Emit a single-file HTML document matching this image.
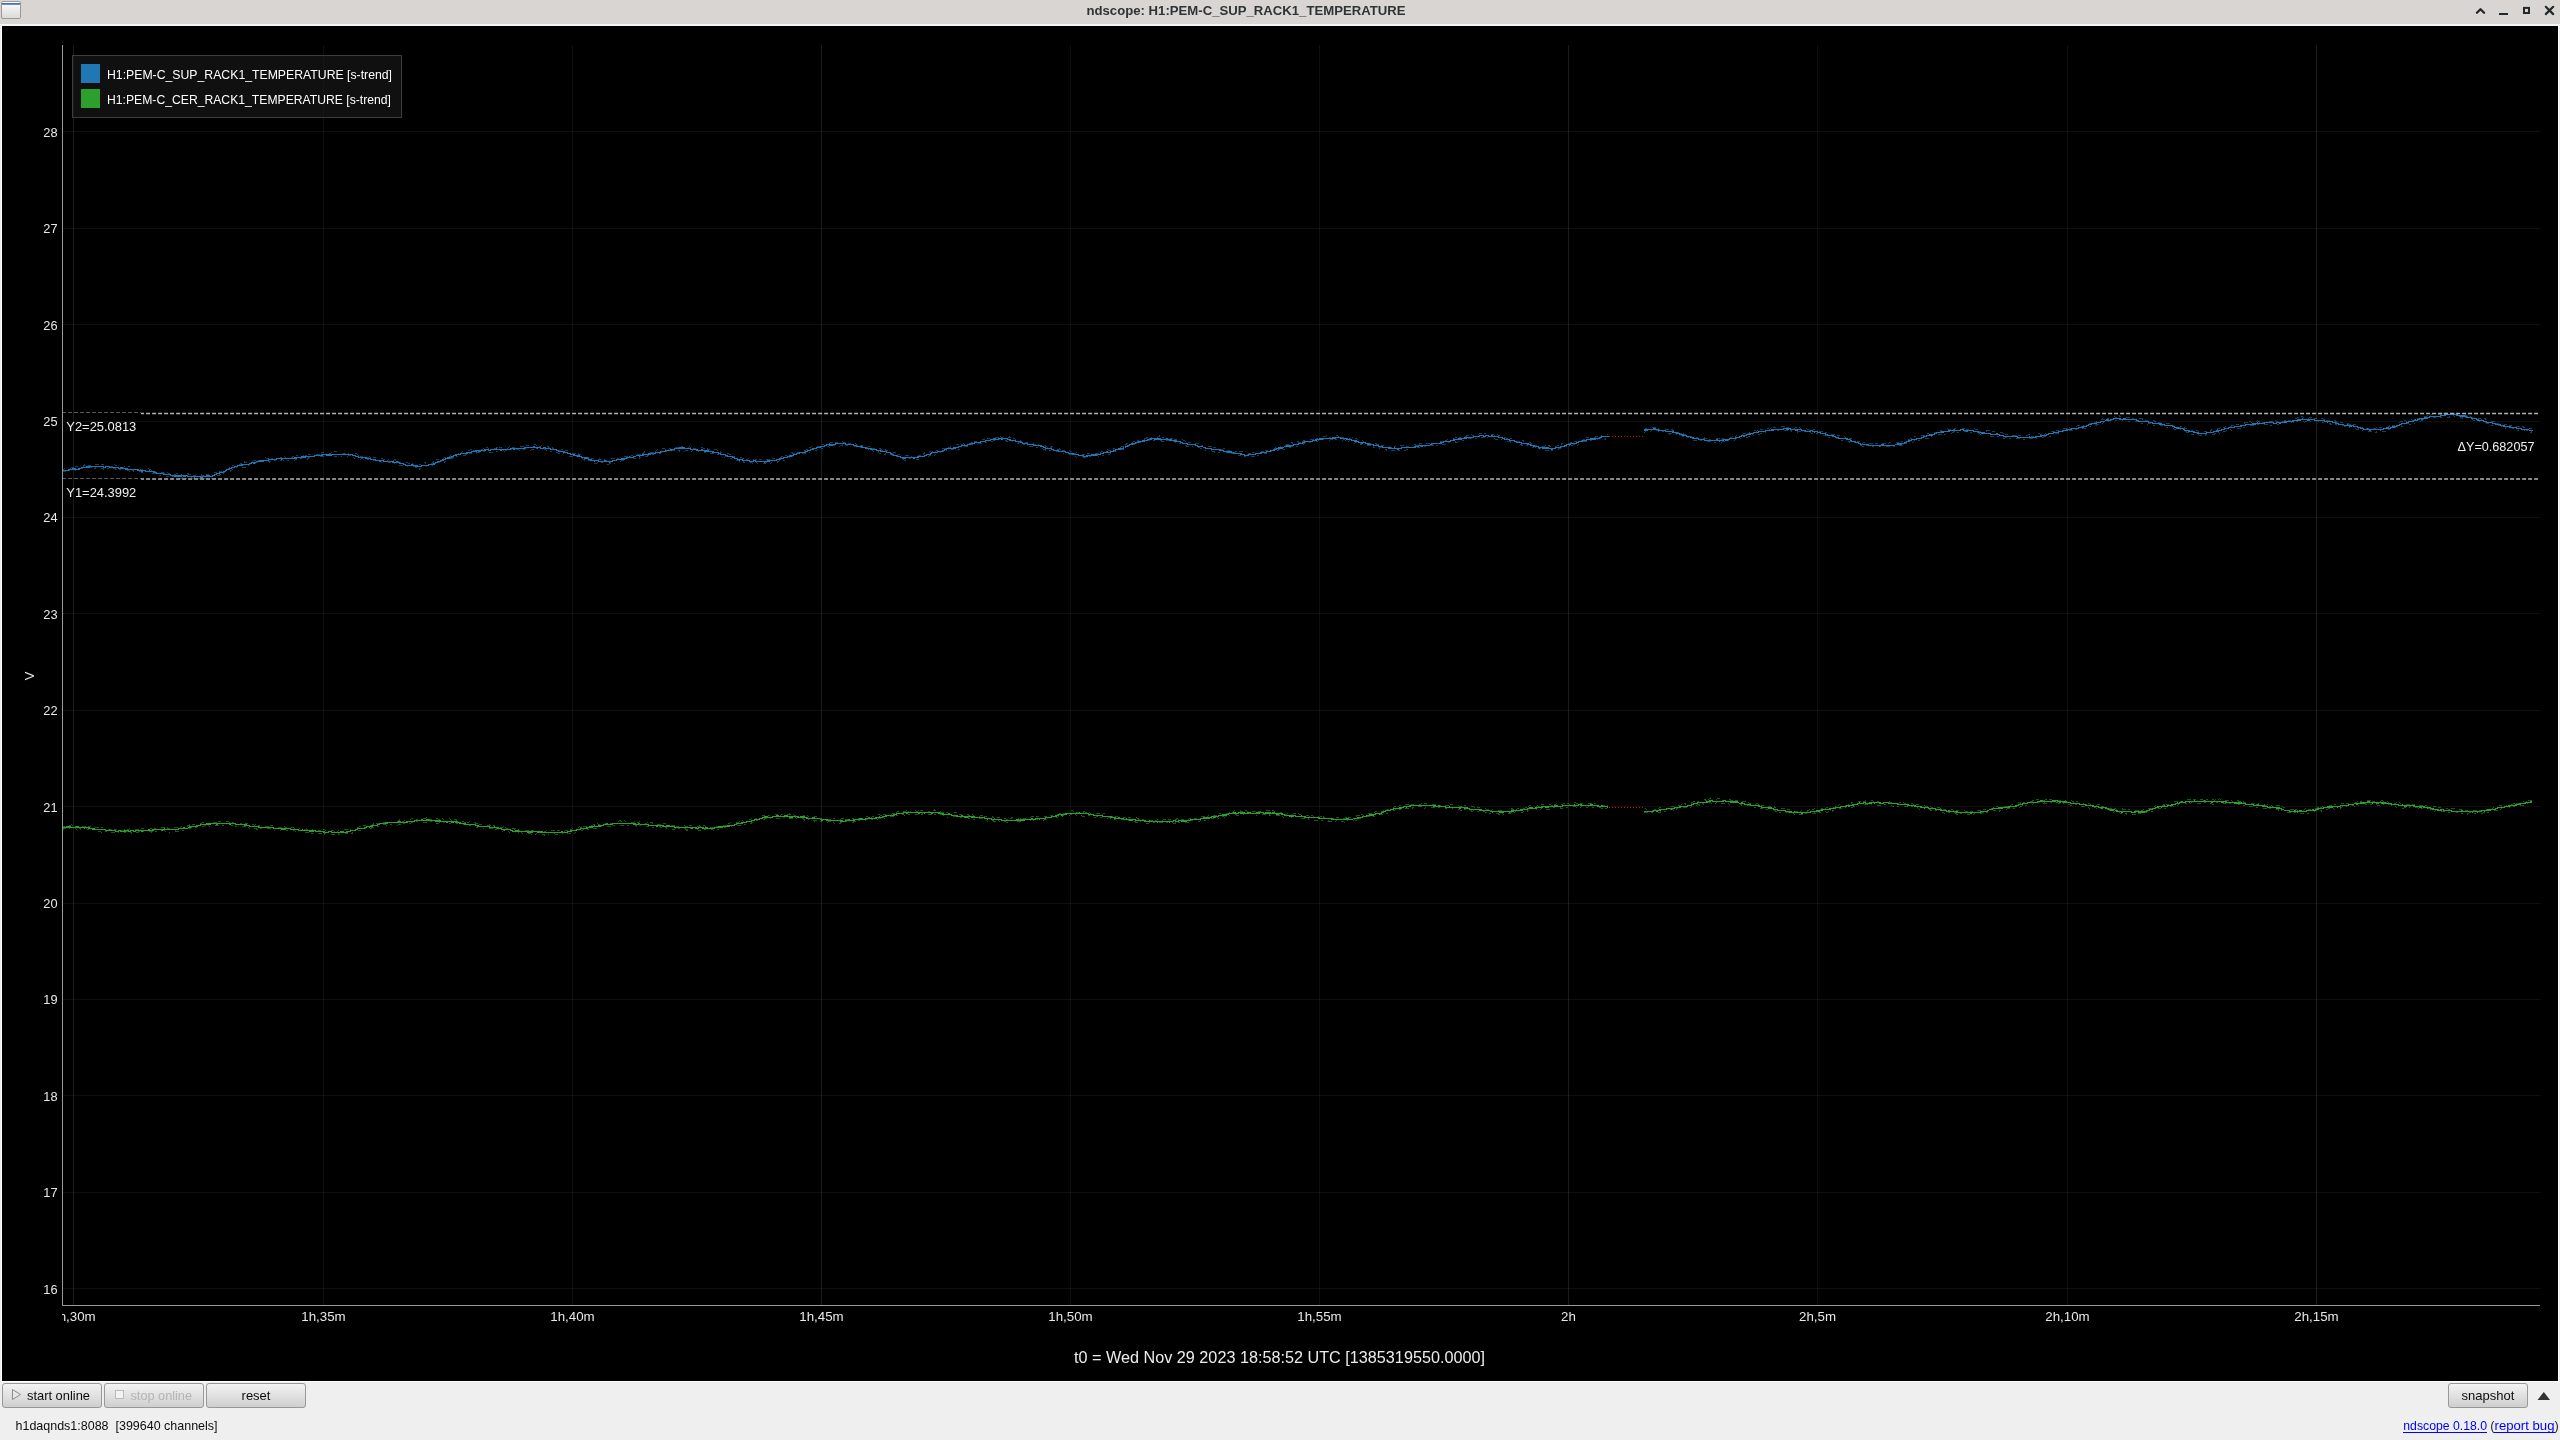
<!DOCTYPE html><html><head><meta charset="utf-8"><style>
html,body{margin:0;padding:0;width:2560px;height:1440px;overflow:hidden;background:#efefef;}
svg{position:absolute;left:0;top:0;display:block;will-change:transform}
text{font-family:"Liberation Sans",sans-serif;}
</style></head><body>
<svg width="2560" height="1440" viewBox="0 0 2560 1440">
<defs>
<linearGradient id="btn" x1="0" y1="0" x2="0" y2="1"><stop offset="0" stop-color="#f4f4f4"/><stop offset="1" stop-color="#cecece"/></linearGradient>
<linearGradient id="ico" x1="0" y1="0" x2="0" y2="1"><stop offset="0" stop-color="#ffffff"/><stop offset="1" stop-color="#d8dad6"/></linearGradient>
<clipPath id="plotclip"><rect x="63" y="45" width="2477" height="1260"/></clipPath>
<clipPath id="xaxclip"><rect x="62" y="1306" width="2496" height="30"/></clipPath>
</defs>
<rect x="0" y="0" width="2560" height="1440" fill="#efefef"/>
<rect x="0" y="0" width="2560" height="24" fill="#d9d5d2"/>
<rect x="0" y="24" width="2560" height="2" fill="#f6f6f6"/>
<rect x="1" y="26" width="1" height="1357" fill="#ffffff"/>
<rect x="2558" y="26" width="1" height="1357" fill="#ffffff"/>
<rect x="2" y="26" width="2556" height="1355" fill="#000000"/>
<rect x="1" y="1381" width="2558" height="1" fill="#ffffff"/>
<rect x="1.5" y="1.5" width="19" height="17" rx="1.5" fill="url(#ico)" stroke="#9a9a9a" stroke-width="1"/>
<rect x="2" y="3" width="18" height="1.8" fill="#4a74ad"/>
<text x="1246" y="15" font-size="13.2" font-weight="bold" fill="#2e3436" text-anchor="middle" textLength="319" lengthAdjust="spacingAndGlyphs">ndscope: H1:PEM-C_SUP_RACK1_TEMPERATURE</text>
<path d="M2476.9 12.8 L2480.5 9.2 L2484.1 12.8" fill="none" stroke="#22292c" stroke-width="2.3" stroke-linecap="round" stroke-linejoin="round"/>
<rect x="2499" y="13" width="9" height="2" fill="#22292c"/>
<rect x="2524" y="7.9" width="5" height="5.1" fill="none" stroke="#22292c" stroke-width="2"/>
<path d="M2545.8 6.8 L2553.2 14.1 M2553.2 6.8 L2545.8 14.1" fill="none" stroke="#22292c" stroke-width="2.2" stroke-linecap="round"/>
<path d="M73.5 45V1305 M821.5 45V1305 M1568.5 45V1305 M2316.5 45V1305" stroke="#ffffff" stroke-opacity="0.11" stroke-width="1" fill="none"/>
<path d="M323.5 45V1305 M572.5 45V1305 M1070.5 45V1305 M1319.5 45V1305 M1817.5 45V1305 M2067.5 45V1305 M63 131.5H2540 M63 228.5H2540 M63 324.5H2540 M63 421.5H2540 M63 517.5H2540 M63 613.5H2540 M63 710.5H2540 M63 806.5H2540 M63 903.5H2540 M63 999.5H2540 M63 1095.5H2540 M63 1192.5H2540 M63 1288.5H2540" stroke="#ffffff" stroke-opacity="0.06" stroke-width="1" fill="none"/>
<rect x="72.5" y="55.5" width="329" height="62" fill="#1a1a1a" fill-opacity="0.6" stroke="#3c3c3c" stroke-width="1"/>
<rect x="81" y="64" width="19" height="19" fill="#1f77b4"/>
<rect x="81" y="89" width="19" height="19" fill="#2ca02c"/>
<text x="107" y="79" font-size="12.6" fill="#ffffff" textLength="285" lengthAdjust="spacingAndGlyphs">H1:PEM-C_SUP_RACK1_TEMPERATURE [s-trend]</text>
<text x="107" y="104" font-size="12.6" fill="#ffffff" textLength="284" lengthAdjust="spacingAndGlyphs">H1:PEM-C_CER_RACK1_TEMPERATURE [s-trend]</text>
<g clip-path="url(#plotclip)">
<polyline points="62.0,472.18 64.5,471.44 67.0,472.32 69.5,470.61 72.0,471.41 74.5,470.68 77.0,469.44 79.5,470.02 82.0,468.39 84.5,468.84 87.0,467.47 89.5,467.38 92.0,468.04 94.5,468.86 97.0,467.04 99.5,467.14 102.0,468.37 104.5,469.39 107.0,468.77 109.5,468.59 112.0,470.24 114.5,468.21 117.0,470.36 119.5,469.20 122.0,469.05 124.5,469.18 127.0,469.94 129.5,471.46 132.0,470.23 134.5,471.50 137.0,471.93 139.5,471.59 142.0,472.31 144.5,471.45 147.0,471.74 149.5,472.39 152.0,473.98 154.5,473.83 157.0,474.00 159.5,475.11 162.0,475.24 164.5,475.24 167.0,476.80 169.5,476.94 172.0,476.22 174.5,477.38 177.0,477.39 179.5,478.36 182.0,478.14 184.5,477.21 187.0,479.00 189.5,477.06 192.0,477.91 194.5,478.86 197.0,477.53 199.5,478.47 202.0,477.21 204.5,478.54 207.0,478.59 209.5,477.96 212.0,478.50 214.5,476.20 217.0,476.17 219.5,474.98 222.0,473.99 224.5,472.74 227.0,472.67 229.5,471.92 232.0,469.79 234.5,469.24 237.0,466.80 239.5,467.83 242.0,467.20 244.5,467.53 247.0,466.62 249.5,464.83 252.0,464.45 254.5,464.49 257.0,462.31 259.5,462.74 262.0,461.40 264.5,461.04 267.0,460.66 269.5,462.12 272.0,460.35 274.5,460.39 277.0,460.61 279.5,461.63 282.0,459.60 284.5,460.36 287.0,460.47 289.5,461.02 292.0,460.62 294.5,460.47 297.0,458.82 299.5,458.90 302.0,458.51 304.5,459.52 307.0,459.45 309.5,457.26 312.0,457.07 314.5,456.91 317.0,456.61 319.5,456.91 322.0,456.86 324.5,455.78 327.0,455.09 329.5,456.02 332.0,455.83 334.5,456.23 337.0,457.09 339.5,456.50 342.0,456.12 344.5,456.40 347.0,456.58 349.5,455.13 352.0,457.74 354.5,458.03 357.0,458.84 359.5,459.23 362.0,458.84 364.5,459.31 367.0,459.05 369.5,460.77 372.0,459.85 374.5,460.31 377.0,461.07 379.5,461.37 382.0,462.22 384.5,461.71 387.0,461.76 389.5,462.30 392.0,462.36 394.5,463.17 397.0,462.98 399.5,465.64 402.0,465.63 404.5,465.14 407.0,466.01 409.5,466.48 412.0,466.77 414.5,466.44 417.0,468.44 419.5,469.03 422.0,467.40 424.5,467.07 427.0,465.75 429.5,465.42 432.0,465.62 434.5,464.44 437.0,464.79 439.5,462.19 442.0,460.86 444.5,462.08 447.0,460.19 449.5,458.39 452.0,458.46 454.5,456.34 457.0,456.67 459.5,457.25 462.0,456.47 464.5,455.57 467.0,454.03 469.5,453.78 472.0,452.85 474.5,453.85 477.0,452.83 479.5,452.97 482.0,451.44 484.5,451.06 487.0,452.34 489.5,452.62 492.0,452.18 494.5,451.93 497.0,451.92 499.5,451.70 502.0,450.42 504.5,451.08 507.0,450.65 509.5,449.61 512.0,449.35 514.5,449.69 517.0,449.38 519.5,450.16 522.0,450.63 524.5,449.23 527.0,450.24 529.5,450.19 532.0,449.94 534.5,448.70 537.0,448.52 539.5,448.70 542.0,448.80 544.5,448.99 547.0,450.50 549.5,451.66 552.0,452.02 554.5,451.65 557.0,452.57 559.5,453.55 562.0,452.46 564.5,454.48 567.0,455.70 569.5,456.03 572.0,456.58 574.5,456.56 577.0,456.47 579.5,458.56 582.0,458.10 584.5,459.96 587.0,461.11 589.5,460.47 592.0,461.22 594.5,463.27 597.0,463.00 599.5,461.93 602.0,462.08 604.5,462.40 607.0,464.47 609.5,463.86 612.0,461.89 614.5,463.14 617.0,463.13 619.5,461.98 622.0,460.62 624.5,460.48 627.0,458.85 629.5,457.95 632.0,459.63 634.5,458.36 637.0,457.56 639.5,458.04 642.0,456.34 644.5,456.89 647.0,456.40 649.5,454.55 652.0,454.26 654.5,453.98 657.0,453.48 659.5,453.81 662.0,452.52 664.5,452.41 667.0,451.21 669.5,452.58 672.0,450.87 674.5,450.74 677.0,450.66 679.5,451.05 682.0,449.51 684.5,451.03 687.0,450.36 689.5,450.77 692.0,451.08 694.5,450.19 697.0,451.39 699.5,450.96 702.0,450.71 704.5,452.94 707.0,451.75 709.5,452.80 712.0,453.72 714.5,453.64 717.0,453.82 719.5,455.02 722.0,455.85 724.5,457.14 727.0,456.25 729.5,458.10 732.0,458.12 734.5,458.94 737.0,460.89 739.5,461.02 742.0,461.52 744.5,462.36 747.0,463.10 749.5,462.34 752.0,463.12 754.5,462.91 757.0,462.98 759.5,463.46 762.0,462.94 764.5,463.18 767.0,462.75 769.5,463.56 772.0,462.68 774.5,462.80 777.0,462.66 779.5,460.27 782.0,460.24 784.5,460.41 787.0,459.42 789.5,456.98 792.0,456.19 794.5,456.21 797.0,454.57 799.5,454.23 802.0,453.08 804.5,453.76 807.0,453.28 809.5,452.80 812.0,450.27 814.5,450.87 817.0,449.98 819.5,447.99 822.0,449.02 824.5,448.47 827.0,445.93 829.5,447.49 832.0,445.96 834.5,445.97 837.0,446.98 839.5,446.40 842.0,444.87 844.5,445.60 847.0,445.88 849.5,445.53 852.0,445.27 854.5,446.18 857.0,447.77 859.5,446.71 862.0,448.61 864.5,448.96 867.0,448.44 869.5,449.70 872.0,450.90 874.5,451.13 877.0,450.55 879.5,453.38 882.0,453.53 884.5,454.59 887.0,453.13 889.5,454.14 892.0,454.48 894.5,457.13 897.0,456.79 899.5,457.33 902.0,458.91 904.5,460.21 907.0,460.11 909.5,458.88 912.0,458.74 914.5,460.71 917.0,459.25 919.5,458.94 922.0,456.85 924.5,456.16 927.0,457.05 929.5,455.67 932.0,454.07 934.5,455.40 937.0,453.92 939.5,453.57 942.0,451.22 944.5,452.44 947.0,449.92 949.5,451.20 952.0,449.59 954.5,448.81 957.0,448.83 959.5,449.22 962.0,447.14 964.5,446.31 967.0,446.76 969.5,445.57 972.0,444.76 974.5,444.39 977.0,443.62 979.5,443.36 982.0,443.01 984.5,442.37 987.0,442.84 989.5,441.10 992.0,441.35 994.5,440.33 997.0,440.48 999.5,439.44 1002.0,439.75 1004.5,439.49 1007.0,441.51 1009.5,441.37 1012.0,440.80 1014.5,441.79 1017.0,443.74 1019.5,442.61 1022.0,445.17 1024.5,444.68 1027.0,445.27 1029.5,446.52 1032.0,445.90 1034.5,446.62 1037.0,447.67 1039.5,449.00 1042.0,448.08 1044.5,449.88 1047.0,450.20 1049.5,450.66 1052.0,450.73 1054.5,451.22 1057.0,451.15 1059.5,451.96 1062.0,452.32 1064.5,454.43 1067.0,453.76 1069.5,454.04 1072.0,454.35 1074.5,456.67 1077.0,457.24 1079.5,457.26 1082.0,456.83 1084.5,457.23 1087.0,456.98 1089.5,457.01 1092.0,455.92 1094.5,456.24 1097.0,455.43 1099.5,456.61 1102.0,456.13 1104.5,454.61 1107.0,453.39 1109.5,454.62 1112.0,452.28 1114.5,451.64 1117.0,450.02 1119.5,450.18 1122.0,449.64 1124.5,448.71 1127.0,446.98 1129.5,446.71 1132.0,444.51 1134.5,444.13 1137.0,443.05 1139.5,443.12 1142.0,441.59 1144.5,440.87 1147.0,440.88 1149.5,440.51 1152.0,441.16 1154.5,440.82 1157.0,441.15 1159.5,440.73 1162.0,441.07 1164.5,441.66 1167.0,440.68 1169.5,440.73 1172.0,442.51 1174.5,441.18 1177.0,443.23 1179.5,443.70 1182.0,442.94 1184.5,445.50 1187.0,446.14 1189.5,446.01 1192.0,446.76 1194.5,447.45 1197.0,446.33 1199.5,447.89 1202.0,448.47 1204.5,449.89 1207.0,450.45 1209.5,451.13 1212.0,450.92 1214.5,452.03 1217.0,451.90 1219.5,452.29 1222.0,451.55 1224.5,451.57 1227.0,452.32 1229.5,453.37 1232.0,453.25 1234.5,455.51 1237.0,455.22 1239.5,455.77 1242.0,456.14 1244.5,456.65 1247.0,456.57 1249.5,455.16 1252.0,456.81 1254.5,456.45 1257.0,455.61 1259.5,455.43 1262.0,455.10 1264.5,453.05 1267.0,454.03 1269.5,452.24 1272.0,451.18 1274.5,450.90 1277.0,451.27 1279.5,449.27 1282.0,449.82 1284.5,449.64 1287.0,447.99 1289.5,447.22 1292.0,446.95 1294.5,446.94 1297.0,446.64 1299.5,445.65 1302.0,445.08 1304.5,443.10 1307.0,442.63 1309.5,442.26 1312.0,442.93 1314.5,441.38 1317.0,441.51 1319.5,439.68 1322.0,439.30 1324.5,439.55 1327.0,440.26 1329.5,440.06 1332.0,439.77 1334.5,438.60 1337.0,439.56 1339.5,439.85 1342.0,440.27 1344.5,439.80 1347.0,442.03 1349.5,440.74 1352.0,442.98 1354.5,443.25 1357.0,441.67 1359.5,443.36 1362.0,444.86 1364.5,445.84 1367.0,445.23 1369.5,445.29 1372.0,445.65 1374.5,447.92 1377.0,446.66 1379.5,448.05 1382.0,447.44 1384.5,448.81 1387.0,450.29 1389.5,448.77 1392.0,450.87 1394.5,450.04 1397.0,450.87 1399.5,450.35 1402.0,449.14 1404.5,450.65 1407.0,449.30 1409.5,447.82 1412.0,447.40 1414.5,448.20 1417.0,447.73 1419.5,447.07 1422.0,446.39 1424.5,446.58 1427.0,446.21 1429.5,447.17 1432.0,444.70 1434.5,446.05 1437.0,445.81 1439.5,443.64 1442.0,445.12 1444.5,444.16 1447.0,444.16 1449.5,442.25 1452.0,441.99 1454.5,441.59 1457.0,442.62 1459.5,441.20 1462.0,440.23 1464.5,439.96 1467.0,439.16 1469.5,438.25 1472.0,438.00 1474.5,439.39 1477.0,437.71 1479.5,438.90 1482.0,437.12 1484.5,437.03 1487.0,437.49 1489.5,436.59 1492.0,436.90 1494.5,438.87 1497.0,439.28 1499.5,439.69 1502.0,439.83 1504.5,441.09 1507.0,441.84 1509.5,441.58 1512.0,442.67 1514.5,441.74 1517.0,444.06 1519.5,443.95 1522.0,445.25 1524.5,445.56 1527.0,445.27 1529.5,445.27 1532.0,448.04 1534.5,446.80 1537.0,448.29 1539.5,448.65 1542.0,449.21 1544.5,450.40 1547.0,451.10 1549.5,449.51 1552.0,450.59 1554.5,449.87 1557.0,449.74 1559.5,448.60 1562.0,447.30 1564.5,446.54 1567.0,445.90 1569.5,446.95 1572.0,445.35 1574.5,444.07 1577.0,445.10 1579.5,444.69 1582.0,442.80 1584.5,441.48 1587.0,441.02 1589.5,440.20 1592.0,440.22 1594.5,439.20 1597.0,439.13 1599.5,438.76 1602.0,439.09 1604.5,439.43 1608.5,437.85" fill="none" stroke="#1f77b4" stroke-width="1" stroke-opacity="0.55" stroke-dasharray="4 3 2 5" shape-rendering="crispEdges"/>
<polyline points="62.0,470.00 64.5,468.87 67.0,468.55 69.5,468.50 72.0,467.82 74.5,467.41 77.0,466.25 79.5,466.27 82.0,467.42 84.5,464.90 87.0,465.31 89.5,465.47 92.0,465.89 94.5,464.20 97.0,464.19 99.5,464.00 102.0,464.62 104.5,464.99 107.0,466.47 109.5,466.48 112.0,466.79 114.5,464.95 117.0,465.18 119.5,467.00 122.0,467.65 124.5,466.84 127.0,467.41 129.5,466.30 132.0,467.54 134.5,469.12 137.0,469.18 139.5,469.55 142.0,470.13 144.5,468.70 147.0,468.66 149.5,469.07 152.0,470.40 154.5,471.24 157.0,472.31 159.5,472.23 162.0,472.50 164.5,473.16 167.0,472.79 169.5,473.38 172.0,472.52 174.5,474.68 177.0,473.49 179.5,475.27 182.0,474.74 184.5,474.05 187.0,473.76 189.5,474.18 192.0,475.24 194.5,475.52 197.0,474.24 199.5,474.27 202.0,475.18 204.5,475.14 207.0,474.49 209.5,473.92 212.0,474.64 214.5,472.28 217.0,472.02 219.5,471.46 222.0,471.70 224.5,470.00 227.0,469.57 229.5,467.59 232.0,466.01 234.5,465.04 237.0,465.76 239.5,464.64 242.0,463.19 244.5,462.00 247.0,462.65 249.5,462.57 252.0,461.33 254.5,460.31 257.0,460.66 259.5,460.65 262.0,458.34 264.5,457.64 267.0,458.13 269.5,458.09 272.0,458.48 274.5,457.08 277.0,458.38 279.5,458.11 282.0,457.42 284.5,456.57 287.0,458.28 289.5,456.45 292.0,457.42 294.5,455.75 297.0,455.48 299.5,456.53 302.0,455.16 304.5,456.48 307.0,455.14 309.5,454.15 312.0,453.99 314.5,454.15 317.0,454.45 319.5,454.83 322.0,452.60 324.5,452.89 327.0,452.39 329.5,454.15 332.0,452.08 334.5,451.79 337.0,451.74 339.5,452.58 342.0,453.84 344.5,453.84 347.0,453.52 349.5,454.19 352.0,454.62 354.5,453.75 357.0,453.99 359.5,456.37 362.0,456.49 364.5,455.23 367.0,457.19 369.5,456.96 372.0,457.40 374.5,457.75 377.0,457.77 379.5,457.79 382.0,458.87 384.5,459.22 387.0,460.85 389.5,459.04 392.0,461.23 394.5,459.60 397.0,460.58 399.5,462.31 402.0,462.93 404.5,462.62 407.0,462.32 409.5,463.59 412.0,463.59 414.5,465.16 417.0,463.66 419.5,464.32 422.0,465.23 424.5,462.78 427.0,463.33 429.5,463.92 432.0,463.44 434.5,460.70 437.0,459.68 439.5,458.75 442.0,459.81 444.5,457.22 447.0,457.51 449.5,457.00 452.0,454.77 454.5,453.73 457.0,454.50 459.5,453.18 462.0,451.83 464.5,452.42 467.0,450.96 469.5,450.36 472.0,449.26 474.5,450.61 477.0,450.55 479.5,449.42 482.0,449.71 484.5,447.38 487.0,447.75 489.5,448.20 492.0,449.23 494.5,449.09 497.0,447.69 499.5,447.32 502.0,447.71 504.5,447.82 507.0,448.83 509.5,446.78 512.0,448.01 514.5,447.59 517.0,447.53 519.5,447.15 522.0,446.59 524.5,445.75 527.0,445.56 529.5,445.49 532.0,446.33 534.5,444.81 537.0,445.26 539.5,446.77 542.0,445.72 544.5,445.46 547.0,445.88 549.5,447.63 552.0,447.58 554.5,449.65 557.0,449.92 559.5,450.80 562.0,449.70 564.5,449.89 567.0,450.55 569.5,452.15 572.0,453.28 574.5,453.28 577.0,453.40 579.5,454.47 582.0,455.59 584.5,456.46 587.0,457.38 589.5,458.35 592.0,458.65 594.5,458.09 597.0,460.08 599.5,459.03 602.0,459.94 604.5,459.74 607.0,460.87 609.5,459.20 612.0,458.93 614.5,458.55 617.0,457.95 619.5,459.32 622.0,457.97 624.5,456.74 627.0,456.29 629.5,457.10 632.0,455.32 634.5,454.16 637.0,455.04 639.5,454.17 642.0,454.48 644.5,451.85 647.0,452.36 649.5,452.81 652.0,452.48 654.5,452.27 657.0,449.80 659.5,449.90 662.0,448.99 664.5,448.65 667.0,450.04 669.5,448.60 672.0,449.05 674.5,447.33 677.0,448.14 679.5,446.76 682.0,445.92 684.5,447.50 687.0,448.23 689.5,446.54 692.0,448.05 694.5,448.44 697.0,447.66 699.5,448.20 702.0,447.84 704.5,448.31 707.0,448.75 709.5,449.90 712.0,450.34 714.5,449.59 717.0,449.87 719.5,451.37 722.0,452.95 724.5,452.50 727.0,453.55 729.5,454.05 732.0,456.23 734.5,456.40 737.0,455.99 739.5,456.84 742.0,457.92 744.5,458.66 747.0,459.24 749.5,458.30 752.0,458.84 754.5,460.17 757.0,459.53 759.5,459.28 762.0,459.39 764.5,460.99 767.0,459.15 769.5,459.46 772.0,458.66 774.5,458.50 777.0,459.27 779.5,458.84 782.0,456.57 784.5,455.42 787.0,455.95 789.5,453.94 792.0,452.71 794.5,454.11 797.0,452.22 799.5,452.42 802.0,450.67 804.5,451.07 807.0,449.31 809.5,447.84 812.0,446.74 814.5,447.27 817.0,446.74 819.5,446.63 822.0,443.91 824.5,444.44 827.0,443.09 829.5,443.21 832.0,442.15 834.5,442.28 837.0,442.65 839.5,443.42 842.0,441.54 844.5,442.54 847.0,443.37 849.5,443.84 852.0,442.07 854.5,442.52 857.0,445.10 859.5,445.80 862.0,445.24 864.5,444.83 867.0,447.42 869.5,446.63 872.0,448.37 874.5,448.19 877.0,449.18 879.5,448.20 882.0,450.33 884.5,449.59 887.0,450.65 889.5,452.33 892.0,453.17 894.5,452.50 897.0,453.46 899.5,454.78 902.0,455.94 904.5,455.74 907.0,455.24 909.5,455.65 912.0,456.92 914.5,457.45 917.0,454.78 919.5,455.41 922.0,455.26 924.5,452.91 927.0,454.21 929.5,451.73 932.0,452.14 934.5,451.27 937.0,450.70 939.5,449.18 942.0,448.83 944.5,448.59 947.0,447.58 949.5,447.51 952.0,446.37 954.5,445.85 957.0,444.36 959.5,445.29 962.0,444.47 964.5,443.36 967.0,444.13 969.5,443.67 972.0,442.40 974.5,441.23 977.0,441.44 979.5,439.94 982.0,439.37 984.5,439.47 987.0,438.04 989.5,438.26 992.0,438.17 994.5,436.80 997.0,437.98 999.5,436.40 1002.0,437.71 1004.5,438.12 1007.0,437.78 1009.5,436.98 1012.0,438.36 1014.5,438.36 1017.0,440.58 1019.5,439.48 1022.0,442.06 1024.5,442.83 1027.0,442.64 1029.5,443.28 1032.0,442.22 1034.5,444.56 1037.0,444.00 1039.5,445.74 1042.0,446.26 1044.5,445.08 1047.0,447.19 1049.5,448.16 1052.0,446.72 1054.5,448.03 1057.0,449.63 1059.5,448.83 1062.0,451.10 1064.5,450.11 1067.0,451.91 1069.5,450.79 1072.0,452.16 1074.5,453.66 1077.0,452.45 1079.5,453.08 1082.0,454.16 1084.5,454.22 1087.0,453.17 1089.5,453.15 1092.0,452.73 1094.5,454.22 1097.0,453.23 1099.5,453.25 1102.0,451.00 1104.5,451.98 1107.0,449.88 1109.5,450.37 1112.0,449.87 1114.5,448.44 1117.0,448.92 1119.5,447.39 1122.0,446.69 1124.5,446.42 1127.0,443.55 1129.5,444.68 1132.0,442.81 1134.5,441.25 1137.0,441.54 1139.5,439.60 1142.0,440.67 1144.5,439.01 1147.0,437.81 1149.5,438.59 1152.0,437.61 1154.5,436.77 1157.0,437.93 1159.5,436.07 1162.0,438.12 1164.5,436.96 1167.0,438.08 1169.5,439.11 1172.0,438.36 1174.5,439.21 1177.0,439.04 1179.5,438.96 1182.0,439.71 1184.5,440.66 1187.0,442.28 1189.5,442.34 1192.0,443.03 1194.5,444.45 1197.0,443.12 1199.5,443.98 1202.0,445.63 1204.5,444.74 1207.0,445.33 1209.5,446.80 1212.0,446.58 1214.5,447.55 1217.0,447.60 1219.5,448.83 1222.0,449.21 1224.5,448.79 1227.0,450.30 1229.5,450.44 1232.0,450.12 1234.5,452.55 1237.0,451.26 1239.5,451.42 1242.0,451.67 1244.5,453.35 1247.0,454.29 1249.5,453.83 1252.0,452.66 1254.5,452.08 1257.0,451.23 1259.5,452.50 1262.0,451.67 1264.5,450.53 1267.0,450.61 1269.5,449.50 1272.0,450.05 1274.5,448.82 1277.0,446.92 1279.5,447.75 1282.0,444.95 1284.5,445.38 1287.0,444.57 1289.5,443.67 1292.0,442.74 1294.5,443.97 1297.0,441.63 1299.5,442.29 1302.0,442.60 1304.5,440.05 1307.0,439.56 1309.5,439.91 1312.0,439.17 1314.5,438.99 1317.0,438.90 1319.5,436.87 1322.0,436.69 1324.5,436.42 1327.0,435.57 1329.5,437.33 1332.0,436.83 1334.5,436.42 1337.0,435.13 1339.5,437.56 1342.0,437.74 1344.5,437.44 1347.0,438.47 1349.5,438.15 1352.0,437.97 1354.5,438.05 1357.0,438.99 1359.5,439.15 1362.0,440.50 1364.5,442.12 1367.0,442.62 1369.5,443.48 1372.0,443.66 1374.5,443.09 1377.0,444.28 1379.5,444.50 1382.0,445.79 1384.5,445.61 1387.0,445.44 1389.5,446.79 1392.0,448.02 1394.5,446.14 1397.0,447.65 1399.5,445.50 1402.0,446.00 1404.5,445.87 1407.0,446.72 1409.5,446.83 1412.0,445.98 1414.5,444.60 1417.0,445.56 1419.5,443.94 1422.0,443.42 1424.5,444.73 1427.0,443.76 1429.5,443.61 1432.0,443.10 1434.5,443.40 1437.0,441.73 1439.5,442.17 1442.0,441.37 1444.5,441.31 1447.0,439.85 1449.5,440.09 1452.0,439.27 1454.5,438.19 1457.0,437.53 1459.5,438.08 1462.0,436.35 1464.5,437.92 1467.0,435.65 1469.5,434.99 1472.0,434.82 1474.5,436.42 1477.0,434.65 1479.5,433.79 1482.0,433.39 1484.5,433.29 1487.0,434.72 1489.5,434.45 1492.0,434.47 1494.5,435.15 1497.0,434.12 1499.5,435.96 1502.0,435.99 1504.5,437.66 1507.0,438.35 1509.5,439.20 1512.0,437.90 1514.5,440.50 1517.0,441.29 1519.5,441.94 1522.0,440.50 1524.5,441.30 1527.0,441.65 1529.5,442.03 1532.0,444.65 1534.5,445.24 1537.0,445.48 1539.5,446.61 1542.0,446.82 1544.5,446.12 1547.0,445.80 1549.5,445.92 1552.0,447.64 1554.5,446.44 1557.0,445.97 1559.5,445.47 1562.0,443.75 1564.5,443.57 1567.0,442.88 1569.5,443.30 1572.0,441.84 1574.5,441.11 1577.0,442.03 1579.5,440.31 1582.0,440.56 1584.5,439.42 1587.0,437.43 1589.5,437.77 1592.0,437.25 1594.5,437.64 1597.0,436.19 1599.5,436.63 1602.0,435.81 1604.5,434.62 1608.5,434.65" fill="none" stroke="#1f77b4" stroke-width="1" stroke-opacity="0.55" stroke-dasharray="3 5 4 2" shape-rendering="crispEdges"/>
<polyline points="62.0,471.43 64.5,470.19 67.0,470.74 69.5,469.64 72.0,469.12 74.5,469.04 77.0,469.21 79.5,468.97 82.0,467.31 84.5,467.39 87.0,466.89 89.5,467.12 92.0,466.24 94.5,466.47 97.0,466.16 99.5,466.60 102.0,466.17 104.5,467.25 107.0,466.72 109.5,466.90 112.0,467.74 114.5,467.70 117.0,467.43 119.5,468.26 122.0,467.80 124.5,468.85 127.0,469.04 129.5,469.44 132.0,469.55 134.5,469.53 137.0,469.88 139.5,470.17 142.0,471.07 144.5,470.40 147.0,471.67 149.5,470.93 152.0,471.60 154.5,472.12 157.0,473.33 159.5,473.30 162.0,473.61 164.5,474.58 167.0,474.17 169.5,474.81 172.0,475.27 174.5,475.91 177.0,476.03 179.5,476.04 182.0,475.81 184.5,475.91 187.0,475.84 189.5,476.79 192.0,476.70 194.5,476.93 197.0,476.37 199.5,476.83 202.0,477.05 204.5,476.64 207.0,475.91 209.5,476.13 212.0,476.46 214.5,474.74 217.0,473.73 219.5,472.91 222.0,472.44 224.5,471.66 227.0,469.84 229.5,468.84 232.0,467.95 234.5,467.04 237.0,466.28 239.5,465.34 242.0,465.04 244.5,464.38 247.0,464.82 249.5,464.02 252.0,462.64 254.5,463.04 257.0,461.38 259.5,461.09 262.0,461.18 264.5,460.71 267.0,460.40 269.5,459.80 272.0,459.28 274.5,459.57 277.0,458.80 279.5,458.79 282.0,458.88 284.5,458.32 287.0,458.63 289.5,458.85 292.0,458.48 294.5,458.00 297.0,457.91 299.5,457.46 302.0,456.82 304.5,457.12 307.0,456.64 309.5,456.79 312.0,456.74 314.5,455.87 317.0,455.74 319.5,455.65 322.0,454.96 324.5,454.42 327.0,454.95 329.5,455.07 332.0,454.87 334.5,454.71 337.0,454.82 339.5,454.66 342.0,454.65 344.5,454.46 347.0,454.34 349.5,454.75 352.0,454.70 354.5,455.66 357.0,456.68 359.5,457.18 362.0,457.66 364.5,457.65 367.0,458.31 369.5,458.80 372.0,459.45 374.5,459.64 377.0,460.38 379.5,461.10 382.0,460.62 384.5,461.37 387.0,461.69 389.5,461.41 392.0,461.71 394.5,462.47 397.0,461.97 399.5,463.19 402.0,463.35 404.5,464.72 407.0,465.53 409.5,465.27 412.0,465.02 414.5,465.84 417.0,466.05 419.5,466.51 422.0,465.89 424.5,465.68 427.0,465.53 429.5,464.80 432.0,464.29 434.5,463.94 437.0,462.05 439.5,461.62 442.0,460.27 444.5,459.72 447.0,458.07 449.5,458.22 452.0,456.59 454.5,455.35 457.0,454.73 459.5,454.38 462.0,453.42 464.5,453.40 467.0,452.90 469.5,452.74 472.0,451.87 474.5,451.32 477.0,450.82 479.5,450.99 482.0,450.78 484.5,450.15 487.0,449.65 489.5,450.22 492.0,449.60 494.5,449.25 497.0,449.12 499.5,449.85 502.0,449.85 504.5,449.60 507.0,449.36 509.5,449.21 512.0,448.55 514.5,449.18 517.0,448.18 519.5,448.27 522.0,448.31 524.5,448.14 527.0,447.55 529.5,447.17 532.0,447.31 534.5,446.97 537.0,447.99 539.5,447.59 542.0,448.35 544.5,447.82 547.0,448.45 549.5,448.80 552.0,449.51 554.5,449.72 557.0,450.00 559.5,451.50 562.0,451.60 564.5,452.18 567.0,452.88 569.5,453.73 572.0,454.29 574.5,455.17 577.0,455.83 579.5,456.10 582.0,457.41 584.5,458.07 587.0,457.85 589.5,459.51 592.0,460.35 594.5,460.94 597.0,460.43 599.5,461.52 602.0,461.54 604.5,461.06 607.0,461.31 609.5,462.06 612.0,461.33 614.5,460.46 617.0,459.90 619.5,459.57 622.0,459.06 624.5,459.09 627.0,457.96 629.5,457.10 632.0,457.38 634.5,456.75 637.0,455.50 639.5,455.87 642.0,455.03 644.5,454.74 647.0,454.22 649.5,454.11 652.0,453.61 654.5,453.29 657.0,452.14 659.5,452.23 662.0,451.54 664.5,451.29 667.0,450.43 669.5,450.46 672.0,449.69 674.5,448.96 677.0,448.54 679.5,448.05 682.0,448.09 684.5,447.90 687.0,448.72 689.5,448.66 692.0,449.41 694.5,449.75 697.0,449.98 699.5,450.55 702.0,449.71 704.5,451.03 707.0,450.90 709.5,451.34 712.0,451.78 714.5,452.31 717.0,452.49 719.5,453.28 722.0,454.67 724.5,454.35 727.0,455.76 729.5,456.52 732.0,456.55 734.5,458.01 737.0,458.86 739.5,459.92 742.0,459.57 744.5,460.72 747.0,460.52 749.5,460.86 752.0,461.73 754.5,460.74 757.0,461.61 759.5,461.55 762.0,461.26 764.5,461.93 767.0,461.04 769.5,460.87 772.0,460.63 774.5,460.62 777.0,459.65 779.5,459.17 782.0,458.41 784.5,457.81 787.0,457.39 789.5,456.00 792.0,455.89 794.5,454.63 797.0,454.00 799.5,452.98 802.0,452.51 804.5,452.32 807.0,451.19 809.5,450.60 812.0,449.30 814.5,448.53 817.0,447.76 819.5,447.35 822.0,446.66 824.5,446.09 827.0,444.45 829.5,445.07 832.0,445.06 834.5,444.45 837.0,443.66 839.5,443.76 842.0,443.49 844.5,443.79 847.0,444.75 849.5,444.45 852.0,444.59 854.5,445.37 857.0,446.13 859.5,446.39 862.0,447.02 864.5,447.65 867.0,448.24 869.5,448.62 872.0,449.22 874.5,449.16 877.0,450.20 879.5,450.57 882.0,451.56 884.5,451.38 887.0,452.10 889.5,452.54 892.0,454.31 894.5,455.36 897.0,455.93 899.5,456.46 902.0,457.89 904.5,457.96 907.0,457.81 909.5,457.57 912.0,457.74 914.5,458.01 917.0,457.26 919.5,456.78 922.0,456.41 924.5,456.14 927.0,454.47 929.5,454.33 932.0,452.95 934.5,452.29 937.0,452.37 939.5,451.34 942.0,451.12 944.5,449.93 947.0,448.78 949.5,448.59 952.0,448.21 954.5,448.13 957.0,447.68 959.5,446.57 962.0,445.99 964.5,445.12 967.0,445.27 969.5,444.25 972.0,443.68 974.5,443.02 977.0,442.51 979.5,442.70 982.0,441.41 984.5,441.80 987.0,440.13 989.5,440.44 992.0,439.30 994.5,438.92 997.0,439.51 999.5,438.69 1002.0,439.03 1004.5,438.67 1007.0,438.81 1009.5,439.98 1012.0,440.21 1014.5,440.68 1017.0,441.38 1019.5,441.45 1022.0,442.95 1024.5,443.49 1027.0,443.63 1029.5,444.64 1032.0,444.26 1034.5,445.56 1037.0,445.88 1039.5,445.65 1042.0,446.28 1044.5,447.66 1047.0,448.48 1049.5,448.23 1052.0,449.13 1054.5,450.27 1057.0,450.22 1059.5,451.68 1062.0,451.73 1064.5,451.72 1067.0,452.59 1069.5,453.34 1072.0,453.68 1074.5,454.46 1077.0,454.32 1079.5,455.61 1082.0,455.59 1084.5,456.42 1087.0,456.04 1089.5,455.41 1092.0,455.00 1094.5,455.11 1097.0,454.93 1099.5,454.24 1102.0,453.48 1104.5,452.65 1107.0,451.87 1109.5,452.47 1112.0,451.38 1114.5,450.77 1117.0,449.42 1119.5,448.99 1122.0,448.67 1124.5,447.50 1127.0,446.22 1129.5,444.87 1132.0,444.01 1134.5,443.57 1137.0,442.28 1139.5,441.98 1142.0,441.21 1144.5,440.90 1147.0,440.12 1149.5,439.29 1152.0,438.75 1154.5,438.87 1157.0,438.86 1159.5,438.85 1162.0,439.33 1164.5,439.61 1167.0,438.80 1169.5,439.95 1172.0,440.12 1174.5,440.86 1177.0,441.18 1179.5,441.49 1182.0,442.85 1184.5,443.47 1187.0,443.82 1189.5,444.60 1192.0,444.42 1194.5,444.60 1197.0,445.66 1199.5,446.59 1202.0,446.50 1204.5,447.79 1207.0,448.64 1209.5,448.43 1212.0,449.25 1214.5,449.70 1217.0,449.82 1219.5,449.88 1222.0,450.31 1224.5,451.40 1227.0,451.95 1229.5,452.05 1232.0,452.11 1234.5,453.47 1237.0,453.81 1239.5,453.54 1242.0,454.34 1244.5,455.10 1247.0,455.46 1249.5,454.78 1252.0,454.47 1254.5,454.36 1257.0,453.63 1259.5,453.38 1262.0,452.74 1264.5,452.73 1267.0,451.70 1269.5,451.31 1272.0,450.48 1274.5,449.88 1277.0,448.70 1279.5,447.83 1282.0,448.24 1284.5,446.75 1287.0,445.93 1289.5,446.06 1292.0,445.74 1294.5,444.49 1297.0,444.52 1299.5,443.58 1302.0,443.16 1304.5,441.93 1307.0,441.32 1309.5,441.84 1312.0,441.19 1314.5,440.23 1317.0,439.83 1319.5,438.96 1322.0,439.09 1324.5,438.41 1327.0,438.79 1329.5,438.32 1332.0,438.13 1334.5,438.06 1337.0,437.62 1339.5,437.78 1342.0,438.39 1344.5,438.74 1347.0,438.99 1349.5,439.32 1352.0,440.30 1354.5,441.04 1357.0,441.18 1359.5,442.40 1362.0,442.98 1364.5,442.60 1367.0,443.87 1369.5,444.13 1372.0,444.29 1374.5,445.80 1377.0,445.46 1379.5,446.33 1382.0,446.87 1384.5,447.70 1387.0,447.80 1389.5,447.92 1392.0,448.44 1394.5,448.01 1397.0,448.90 1399.5,448.85 1402.0,447.85 1404.5,447.55 1407.0,447.44 1409.5,447.18 1412.0,447.47 1414.5,447.11 1417.0,446.65 1419.5,445.41 1422.0,445.99 1424.5,445.60 1427.0,445.23 1429.5,445.33 1432.0,443.77 1434.5,443.42 1437.0,443.71 1439.5,443.48 1442.0,442.71 1444.5,441.81 1447.0,441.71 1449.5,441.46 1452.0,440.23 1454.5,440.04 1457.0,439.53 1459.5,438.94 1462.0,438.94 1464.5,438.13 1467.0,437.79 1469.5,437.30 1472.0,437.57 1474.5,436.41 1477.0,436.88 1479.5,435.88 1482.0,435.56 1484.5,436.50 1487.0,435.52 1489.5,436.25 1492.0,436.04 1494.5,436.65 1497.0,436.33 1499.5,437.28 1502.0,437.44 1504.5,439.01 1507.0,439.59 1509.5,440.01 1512.0,440.48 1514.5,441.03 1517.0,442.29 1519.5,442.44 1522.0,443.19 1524.5,443.18 1527.0,443.85 1529.5,444.22 1532.0,445.68 1534.5,446.15 1537.0,446.33 1539.5,447.87 1542.0,447.82 1544.5,448.12 1547.0,447.95 1549.5,448.22 1552.0,449.03 1554.5,448.55 1557.0,447.60 1559.5,447.24 1562.0,446.28 1564.5,446.23 1567.0,444.54 1569.5,444.95 1572.0,443.23 1574.5,443.61 1577.0,442.72 1579.5,441.55 1582.0,441.29 1584.5,440.48 1587.0,439.87 1589.5,439.22 1592.0,438.84 1594.5,439.17 1597.0,438.76 1599.5,438.25 1602.0,436.84 1604.5,436.65 1608.5,436.25" fill="none" stroke="#1f77b4" stroke-width="1.3" stroke-linejoin="round" shape-rendering="crispEdges"/>
<polyline points="1644.5,432.55 1647.0,430.39 1649.5,431.84 1652.0,430.65 1654.5,432.15 1657.0,430.24 1659.5,432.54 1662.0,431.82 1664.5,431.72 1667.0,431.76 1669.5,434.14 1672.0,433.78 1674.5,433.35 1677.0,434.69 1679.5,436.59 1682.0,435.67 1684.5,437.27 1687.0,436.98 1689.5,437.78 1692.0,439.90 1694.5,440.46 1697.0,439.92 1699.5,440.34 1702.0,440.53 1704.5,441.95 1707.0,441.85 1709.5,441.49 1712.0,441.49 1714.5,442.40 1717.0,442.56 1719.5,442.74 1722.0,442.12 1724.5,441.14 1727.0,440.26 1729.5,441.31 1732.0,439.98 1734.5,440.18 1737.0,438.03 1739.5,439.23 1742.0,437.46 1744.5,438.06 1747.0,437.49 1749.5,435.98 1752.0,434.26 1754.5,435.82 1757.0,434.20 1759.5,434.57 1762.0,432.54 1764.5,431.93 1767.0,433.06 1769.5,431.52 1772.0,430.61 1774.5,430.69 1777.0,431.10 1779.5,429.55 1782.0,430.66 1784.5,430.35 1787.0,430.39 1789.5,429.69 1792.0,431.37 1794.5,431.86 1797.0,432.23 1799.5,431.17 1802.0,432.36 1804.5,431.82 1807.0,432.95 1809.5,431.55 1812.0,433.74 1814.5,434.44 1817.0,433.84 1819.5,434.38 1822.0,434.92 1824.5,435.44 1827.0,434.95 1829.5,437.97 1832.0,436.94 1834.5,437.59 1837.0,438.15 1839.5,439.00 1842.0,440.86 1844.5,439.47 1847.0,440.13 1849.5,442.08 1852.0,441.75 1854.5,442.20 1857.0,444.48 1859.5,445.30 1862.0,446.05 1864.5,446.66 1867.0,445.39 1869.5,447.40 1872.0,447.20 1874.5,445.76 1877.0,446.02 1879.5,446.97 1882.0,447.06 1884.5,446.60 1887.0,446.29 1889.5,446.73 1892.0,445.85 1894.5,446.70 1897.0,447.11 1899.5,445.15 1902.0,445.29 1904.5,444.83 1907.0,442.55 1909.5,443.26 1912.0,442.65 1914.5,440.71 1917.0,440.17 1919.5,440.56 1922.0,439.18 1924.5,438.25 1927.0,438.80 1929.5,437.64 1932.0,435.83 1934.5,434.84 1937.0,434.30 1939.5,434.13 1942.0,435.01 1944.5,434.17 1947.0,434.01 1949.5,433.36 1952.0,433.28 1954.5,431.23 1957.0,432.19 1959.5,433.10 1962.0,432.89 1964.5,431.45 1967.0,432.06 1969.5,432.77 1972.0,432.32 1974.5,432.92 1977.0,432.43 1979.5,433.92 1982.0,434.71 1984.5,433.73 1987.0,434.19 1989.5,436.37 1992.0,436.08 1994.5,436.65 1997.0,436.37 1999.5,437.24 2002.0,437.87 2004.5,438.32 2007.0,436.73 2009.5,438.39 2012.0,437.69 2014.5,438.88 2017.0,438.11 2019.5,438.95 2022.0,439.87 2024.5,439.14 2027.0,438.25 2029.5,438.90 2032.0,438.69 2034.5,439.60 2037.0,437.68 2039.5,437.39 2042.0,437.88 2044.5,436.29 2047.0,436.76 2049.5,436.95 2052.0,435.22 2054.5,433.96 2057.0,433.77 2059.5,433.43 2062.0,432.01 2064.5,431.45 2067.0,430.97 2069.5,430.85 2072.0,430.63 2074.5,429.84 2077.0,429.23 2079.5,428.36 2082.0,428.96 2084.5,428.97 2087.0,427.71 2089.5,426.92 2092.0,426.41 2094.5,424.63 2097.0,425.10 2099.5,423.76 2102.0,423.22 2104.5,422.62 2107.0,421.53 2109.5,420.90 2112.0,420.48 2114.5,420.18 2117.0,420.63 2119.5,420.07 2122.0,420.69 2124.5,419.44 2127.0,420.39 2129.5,421.74 2132.0,420.37 2134.5,421.64 2137.0,421.98 2139.5,421.98 2142.0,424.17 2144.5,423.01 2147.0,424.52 2149.5,423.42 2152.0,423.57 2154.5,425.87 2157.0,425.21 2159.5,424.67 2162.0,425.82 2164.5,426.32 2167.0,427.39 2169.5,426.26 2172.0,427.17 2174.5,429.56 2177.0,429.66 2179.5,428.89 2182.0,429.96 2184.5,430.80 2187.0,432.37 2189.5,433.03 2192.0,434.39 2194.5,435.12 2197.0,434.46 2199.5,435.06 2202.0,435.14 2204.5,435.25 2207.0,434.64 2209.5,434.88 2212.0,434.20 2214.5,434.20 2217.0,431.81 2219.5,433.09 2222.0,430.39 2224.5,431.60 2227.0,430.55 2229.5,429.71 2232.0,430.21 2234.7,428.86 2237.3,428.07 2240.0,428.53 2242.5,428.24 2245.0,427.11 2247.5,426.06 2250.0,425.74 2252.5,425.25 2255.0,425.76 2257.5,424.59 2260.0,424.70 2262.5,424.96 2265.0,424.42 2267.5,424.27 2270.0,425.39 2272.5,425.54 2275.0,424.70 2277.5,424.57 2280.0,423.57 2282.5,423.49 2285.0,422.74 2287.5,423.40 2290.0,423.05 2292.5,421.49 2295.0,423.12 2297.5,421.32 2300.0,422.19 2302.5,421.81 2305.0,422.17 2307.5,420.43 2310.0,421.03 2312.5,422.27 2315.0,420.18 2317.5,420.61 2320.0,422.21 2322.5,422.39 2325.0,423.76 2327.5,423.76 2330.0,423.69 2332.5,425.30 2335.0,424.64 2337.5,425.14 2340.0,426.04 2342.5,425.78 2345.0,426.16 2347.5,427.18 2350.0,427.04 2352.5,428.92 2355.0,428.90 2357.5,429.17 2360.0,428.78 2362.5,430.07 2365.0,430.76 2367.5,431.27 2370.0,431.42 2372.5,432.27 2375.0,432.59 2377.5,431.57 2380.0,431.08 2382.5,431.14 2385.0,431.65 2387.5,429.70 2390.0,429.77 2392.5,429.59 2395.0,427.17 2397.5,426.65 2400.0,427.37 2402.5,426.13 2405.0,424.75 2407.5,423.16 2410.0,424.41 2412.5,423.29 2415.0,422.97 2417.5,422.76 2420.0,421.89 2422.5,420.15 2425.0,418.90 2427.5,418.60 2430.0,418.75 2432.5,418.35 2435.0,417.21 2437.5,416.82 2440.0,417.51 2442.5,417.28 2445.0,416.51 2447.5,417.87 2450.0,416.85 2452.5,415.25 2455.0,416.44 2457.5,417.64 2460.0,416.79 2462.5,418.01 2465.0,416.66 2467.5,418.01 2470.0,419.93 2472.5,419.95 2475.0,420.77 2477.5,420.27 2480.0,421.61 2482.5,422.37 2485.0,422.30 2487.5,423.83 2490.0,424.18 2492.5,425.91 2495.0,425.52 2497.5,425.75 2500.0,425.67 2502.5,426.38 2505.0,428.25 2507.5,427.12 2510.0,427.53 2512.5,428.13 2515.0,429.40 2517.5,430.53 2520.0,430.42 2522.5,431.29 2525.0,429.90 2527.5,430.18 2530.0,432.25 2532.5,431.85" fill="none" stroke="#1f77b4" stroke-width="1" stroke-opacity="0.55" stroke-dasharray="4 3 2 5" shape-rendering="crispEdges"/>
<polyline points="1644.5,427.97 1647.0,428.77 1649.5,427.75 1652.0,427.16 1654.5,427.24 1657.0,427.24 1659.5,429.57 1662.0,429.20 1664.5,429.02 1667.0,429.64 1669.5,429.87 1672.0,429.45 1674.5,431.84 1677.0,431.85 1679.5,433.50 1682.0,433.01 1684.5,434.19 1687.0,434.05 1689.5,434.26 1692.0,437.08 1694.5,437.60 1697.0,437.01 1699.5,439.11 1702.0,439.08 1704.5,438.02 1707.0,438.91 1709.5,439.93 1712.0,438.99 1714.5,440.01 1717.0,438.24 1719.5,438.53 1722.0,439.24 1724.5,437.98 1727.0,437.64 1729.5,438.45 1732.0,436.96 1734.5,437.15 1737.0,435.28 1739.5,434.50 1742.0,434.32 1744.5,433.29 1747.0,434.55 1749.5,432.30 1752.0,432.37 1754.5,430.72 1757.0,431.14 1759.5,430.21 1762.0,429.67 1764.5,428.44 1767.0,428.16 1769.5,429.42 1772.0,427.86 1774.5,427.19 1777.0,426.93 1779.5,427.02 1782.0,426.78 1784.5,426.16 1787.0,427.54 1789.5,427.02 1792.0,426.82 1794.5,428.39 1797.0,427.17 1799.5,427.85 1802.0,429.45 1804.5,428.01 1807.0,429.01 1809.5,430.21 1812.0,430.38 1814.5,429.33 1817.0,430.30 1819.5,431.68 1822.0,431.35 1824.5,433.25 1827.0,432.20 1829.5,434.73 1832.0,434.41 1834.5,434.50 1837.0,435.79 1839.5,435.51 1842.0,437.40 1844.5,436.83 1847.0,438.86 1849.5,438.61 1852.0,438.96 1854.5,439.55 1857.0,441.30 1859.5,441.23 1862.0,443.69 1864.5,442.06 1867.0,443.17 1869.5,443.41 1872.0,442.93 1874.5,444.30 1877.0,443.44 1879.5,444.17 1882.0,444.02 1884.5,443.48 1887.0,443.74 1889.5,442.77 1892.0,442.74 1894.5,444.12 1897.0,442.61 1899.5,443.19 1902.0,440.98 1904.5,441.19 1907.0,439.83 1909.5,439.28 1912.0,437.91 1914.5,436.74 1917.0,436.71 1919.5,435.88 1922.0,435.02 1924.5,435.82 1927.0,434.02 1929.5,433.55 1932.0,434.00 1934.5,432.92 1937.0,432.42 1939.5,431.95 1942.0,429.78 1944.5,429.70 1947.0,428.69 1949.5,429.83 1952.0,429.64 1954.5,428.74 1957.0,428.74 1959.5,429.18 1962.0,429.13 1964.5,428.25 1967.0,429.88 1969.5,428.90 1972.0,429.76 1974.5,428.89 1977.0,429.34 1979.5,431.87 1982.0,432.06 1984.5,432.19 1987.0,430.76 1989.5,430.94 1992.0,431.41 1994.5,431.68 1997.0,432.38 1999.5,433.01 2002.0,432.64 2004.5,433.75 2007.0,434.98 2009.5,434.08 2012.0,435.86 2014.5,435.42 2017.0,435.97 2019.5,435.06 2022.0,435.49 2024.5,436.09 2027.0,435.29 2029.5,434.45 2032.0,436.45 2034.5,435.98 2037.0,434.48 2039.5,433.56 2042.0,435.18 2044.5,434.26 2047.0,432.24 2049.5,432.05 2052.0,431.06 2054.5,432.02 2057.0,429.95 2059.5,431.14 2062.0,430.25 2064.5,428.16 2067.0,429.12 2069.5,427.89 2072.0,428.24 2074.5,427.94 2077.0,426.12 2079.5,425.17 2082.0,426.72 2084.5,424.77 2087.0,425.28 2089.5,424.01 2092.0,423.42 2094.5,422.94 2097.0,421.71 2099.5,420.54 2102.0,418.83 2104.5,419.63 2107.0,418.23 2109.5,418.18 2112.0,418.93 2114.5,416.76 2117.0,418.03 2119.5,416.05 2122.0,417.77 2124.5,418.14 2127.0,416.97 2129.5,417.78 2132.0,418.93 2134.5,418.63 2137.0,418.91 2139.5,418.70 2142.0,418.74 2144.5,419.96 2147.0,420.46 2149.5,420.32 2152.0,420.96 2154.5,420.91 2157.0,422.65 2159.5,422.93 2162.0,422.26 2164.5,422.64 2167.0,423.67 2169.5,423.87 2172.0,425.68 2174.5,424.90 2177.0,425.41 2179.5,427.44 2182.0,426.29 2184.5,428.10 2187.0,428.35 2189.5,430.31 2192.0,430.47 2194.5,431.78 2197.0,430.43 2199.5,431.69 2202.0,431.60 2204.5,431.34 2207.0,432.14 2209.5,431.79 2212.0,429.57 2214.5,429.49 2217.0,429.17 2219.5,428.30 2222.0,427.32 2224.5,427.23 2227.0,426.41 2229.5,427.00 2232.0,425.78 2234.7,424.55 2237.3,424.65 2240.0,424.57 2242.5,423.82 2245.0,422.85 2247.5,422.12 2250.0,421.48 2252.5,423.33 2255.0,422.62 2257.5,420.89 2260.0,422.28 2262.5,422.78 2265.0,421.65 2267.5,420.56 2270.0,421.47 2272.5,421.34 2275.0,420.76 2277.5,421.60 2280.0,419.95 2282.5,421.77 2285.0,420.74 2287.5,420.33 2290.0,420.69 2292.5,419.65 2295.0,418.31 2297.5,417.93 2300.0,417.30 2302.5,416.67 2305.0,418.53 2307.5,418.75 2310.0,417.52 2312.5,417.33 2315.0,418.48 2317.5,419.33 2320.0,419.87 2322.5,418.40 2325.0,420.23 2327.5,420.69 2330.0,420.98 2332.5,420.48 2335.0,420.64 2337.5,422.68 2340.0,421.97 2342.5,422.53 2345.0,423.42 2347.5,423.44 2350.0,425.00 2352.5,424.02 2355.0,424.18 2357.5,426.07 2360.0,426.85 2362.5,427.94 2365.0,428.29 2367.5,428.89 2370.0,429.11 2372.5,428.15 2375.0,428.28 2377.5,427.58 2380.0,427.54 2382.5,427.83 2385.0,426.25 2387.5,427.33 2390.0,425.69 2392.5,425.49 2395.0,425.89 2397.5,422.91 2400.0,421.92 2402.5,422.00 2405.0,420.78 2407.5,421.43 2410.0,419.07 2412.5,420.45 2415.0,419.85 2417.5,419.07 2420.0,417.58 2422.5,416.62 2425.0,416.91 2427.5,415.94 2430.0,415.33 2432.5,414.75 2435.0,414.61 2437.5,414.78 2440.0,414.78 2442.5,414.80 2445.0,412.85 2447.5,413.00 2450.0,413.18 2452.5,413.30 2455.0,413.09 2457.5,413.02 2460.0,413.05 2462.5,413.93 2465.0,414.56 2467.5,416.41 2470.0,416.89 2472.5,417.42 2475.0,418.31 2477.5,418.91 2480.0,418.71 2482.5,419.79 2485.0,418.60 2487.5,420.70 2490.0,421.16 2492.5,421.03 2495.0,422.31 2497.5,423.85 2500.0,423.33 2502.5,424.35 2505.0,423.95 2507.5,424.48 2510.0,426.21 2512.5,424.59 2515.0,425.40 2517.5,426.98 2520.0,426.82 2522.5,426.35 2525.0,428.14 2527.5,427.84 2530.0,428.59 2532.5,428.65" fill="none" stroke="#1f77b4" stroke-width="1" stroke-opacity="0.55" stroke-dasharray="3 5 4 2" shape-rendering="crispEdges"/>
<polyline points="1644.5,429.90 1647.0,429.89 1649.5,429.78 1652.0,429.43 1654.5,428.94 1657.0,429.42 1659.5,430.67 1662.0,430.66 1664.5,430.51 1667.0,431.79 1669.5,431.44 1672.0,431.63 1674.5,432.54 1677.0,432.95 1679.5,433.99 1682.0,434.81 1684.5,435.17 1687.0,436.34 1689.5,436.49 1692.0,437.67 1694.5,438.46 1697.0,438.55 1699.5,439.64 1702.0,439.41 1704.5,440.02 1707.0,440.70 1709.5,440.49 1712.0,440.86 1714.5,440.84 1717.0,440.00 1719.5,440.98 1722.0,440.59 1724.5,439.77 1727.0,440.10 1729.5,439.02 1732.0,438.21 1734.5,438.60 1737.0,437.58 1739.5,437.21 1742.0,435.82 1744.5,435.97 1747.0,434.49 1749.5,434.08 1752.0,433.67 1754.5,432.66 1757.0,432.77 1759.5,431.74 1762.0,431.26 1764.5,431.33 1767.0,430.57 1769.5,430.71 1772.0,429.97 1774.5,429.85 1777.0,429.35 1779.5,429.64 1782.0,429.45 1784.5,428.48 1787.0,429.04 1789.5,428.81 1792.0,429.57 1794.5,429.72 1797.0,430.14 1799.5,429.55 1802.0,430.10 1804.5,430.78 1807.0,431.29 1809.5,431.27 1812.0,430.70 1814.5,431.87 1817.0,431.77 1819.5,432.81 1822.0,433.61 1824.5,433.29 1827.0,435.01 1829.5,435.46 1832.0,435.71 1834.5,436.38 1837.0,437.44 1839.5,438.41 1842.0,438.60 1844.5,438.54 1847.0,438.93 1849.5,439.53 1852.0,441.24 1854.5,441.38 1857.0,442.71 1859.5,443.27 1862.0,444.62 1864.5,444.43 1867.0,444.31 1869.5,445.36 1872.0,445.13 1874.5,445.48 1877.0,445.69 1879.5,445.93 1882.0,444.88 1884.5,445.34 1887.0,445.18 1889.5,445.36 1892.0,445.57 1894.5,445.24 1897.0,444.08 1899.5,444.02 1902.0,443.90 1904.5,442.86 1907.0,441.63 1909.5,440.85 1912.0,439.59 1914.5,439.79 1917.0,438.63 1919.5,438.59 1922.0,437.65 1924.5,436.39 1927.0,435.94 1929.5,435.04 1932.0,435.09 1934.5,433.97 1937.0,432.55 1939.5,432.28 1942.0,432.09 1944.5,431.80 1947.0,431.51 1949.5,430.87 1952.0,430.67 1954.5,430.11 1957.0,430.64 1959.5,430.20 1962.0,429.67 1964.5,430.40 1967.0,431.23 1969.5,430.30 1972.0,430.62 1974.5,431.46 1977.0,431.59 1979.5,432.21 1982.0,433.10 1984.5,432.99 1987.0,433.54 1989.5,433.67 1992.0,434.37 1994.5,434.59 1997.0,433.89 1999.5,434.97 2002.0,435.68 2004.5,436.25 2007.0,436.58 2009.5,436.61 2012.0,436.81 2014.5,436.69 2017.0,436.79 2019.5,437.60 2022.0,437.70 2024.5,437.78 2027.0,437.47 2029.5,437.01 2032.0,437.57 2034.5,437.21 2037.0,436.60 2039.5,436.42 2042.0,435.75 2044.5,435.66 2047.0,434.82 2049.5,433.73 2052.0,433.39 2054.5,432.71 2057.0,432.84 2059.5,431.73 2062.0,431.09 2064.5,430.44 2067.0,429.93 2069.5,429.57 2072.0,428.81 2074.5,428.16 2077.0,428.70 2079.5,427.69 2082.0,427.18 2084.5,426.63 2087.0,425.61 2089.5,424.75 2092.0,423.93 2094.5,423.51 2097.0,422.77 2099.5,422.52 2102.0,421.56 2104.5,421.27 2107.0,419.81 2109.5,420.26 2112.0,419.60 2114.5,418.75 2117.0,418.61 2119.5,418.85 2122.0,419.46 2124.5,418.84 2127.0,419.47 2129.5,419.18 2132.0,419.84 2134.5,419.38 2137.0,420.38 2139.5,421.38 2142.0,421.13 2144.5,421.61 2147.0,421.70 2149.5,422.24 2152.0,422.73 2154.5,423.63 2157.0,423.41 2159.5,424.00 2162.0,424.13 2164.5,424.98 2167.0,425.67 2169.5,425.78 2172.0,425.87 2174.5,427.14 2177.0,428.05 2179.5,428.24 2182.0,428.25 2184.5,429.92 2187.0,430.80 2189.5,430.96 2192.0,431.51 2194.5,432.38 2197.0,432.86 2199.5,433.34 2202.0,433.13 2204.5,433.54 2207.0,432.75 2209.5,432.39 2212.0,432.40 2214.5,431.78 2217.0,430.99 2219.5,430.81 2222.0,429.79 2224.5,428.83 2227.0,428.64 2229.5,427.57 2232.0,427.65 2234.7,426.88 2237.3,426.66 2240.0,426.37 2242.5,425.46 2245.0,425.21 2247.5,424.17 2250.0,424.76 2252.5,423.83 2255.0,424.21 2257.5,422.96 2260.0,423.50 2262.5,423.50 2265.0,422.89 2267.5,422.61 2270.0,422.69 2272.5,422.67 2275.0,423.42 2277.5,422.61 2280.0,423.11 2282.5,422.27 2285.0,422.04 2287.5,421.73 2290.0,421.32 2292.5,421.07 2295.0,420.63 2297.5,419.94 2300.0,420.06 2302.5,419.11 2305.0,419.72 2307.5,419.86 2310.0,419.94 2312.5,419.45 2315.0,420.08 2317.5,420.67 2320.0,420.39 2322.5,420.53 2325.0,421.18 2327.5,422.03 2330.0,421.56 2332.5,421.91 2335.0,422.97 2337.5,423.69 2340.0,424.33 2342.5,424.28 2345.0,425.49 2347.5,425.02 2350.0,426.11 2352.5,425.76 2355.0,426.31 2357.5,427.07 2360.0,427.61 2362.5,428.77 2365.0,429.47 2367.5,429.14 2370.0,430.17 2372.5,429.60 2375.0,429.46 2377.5,429.61 2380.0,429.91 2382.5,429.75 2385.0,428.45 2387.5,427.91 2390.0,428.43 2392.5,426.92 2395.0,426.94 2397.5,425.49 2400.0,424.78 2402.5,423.56 2405.0,423.48 2407.5,422.44 2410.0,421.65 2412.5,421.71 2415.0,420.13 2417.5,420.26 2420.0,418.84 2422.5,418.91 2425.0,418.00 2427.5,417.94 2430.0,416.59 2432.5,416.82 2435.0,416.25 2437.5,416.48 2440.0,416.13 2442.5,415.58 2445.0,414.93 2447.5,414.79 2450.0,414.63 2452.5,414.67 2455.0,414.73 2457.5,414.99 2460.0,415.96 2462.5,416.12 2465.0,416.01 2467.5,417.47 2470.0,417.17 2472.5,418.22 2475.0,418.36 2477.5,419.84 2480.0,420.46 2482.5,420.36 2485.0,421.56 2487.5,422.27 2490.0,422.24 2492.5,422.92 2495.0,423.72 2497.5,424.83 2500.0,424.57 2502.5,425.82 2505.0,426.15 2507.5,426.40 2510.0,426.99 2512.5,427.78 2515.0,427.40 2517.5,428.61 2520.0,428.38 2522.5,429.29 2525.0,429.79 2527.5,429.37 2530.0,430.44 2532.5,430.25" fill="none" stroke="#1f77b4" stroke-width="1.3" stroke-linejoin="round" shape-rendering="crispEdges"/>
<polyline points="62.0,830.04 64.5,828.36 67.0,827.71 69.5,827.92 72.0,829.99 74.5,827.67 77.0,830.01 79.5,828.35 82.0,829.93 84.5,828.56 87.0,828.90 89.5,830.40 92.0,829.24 94.5,830.09 97.0,831.74 99.5,831.52 102.0,832.16 104.5,832.63 107.0,830.60 109.5,831.32 112.0,832.90 114.5,832.73 117.0,831.25 119.5,832.45 122.0,831.88 124.5,832.43 127.0,831.57 129.5,831.29 132.0,833.54 134.5,831.84 137.0,833.11 139.5,831.22 142.0,832.03 144.5,831.12 147.0,831.75 149.5,831.08 152.0,832.19 154.5,830.81 157.0,832.12 159.5,831.45 162.0,830.42 164.5,830.93 167.0,831.20 169.5,832.14 172.0,830.71 174.5,830.32 177.0,831.86 179.5,831.40 182.0,830.78 184.5,829.42 187.0,828.93 189.5,828.57 192.0,827.53 194.5,826.89 197.0,827.44 199.5,826.63 202.0,826.69 204.5,825.92 207.0,824.78 209.5,826.10 212.0,825.72 214.5,825.33 217.0,825.21 219.5,825.42 222.0,825.99 224.5,825.60 227.0,825.48 229.5,824.98 232.0,825.04 234.5,825.55 237.0,827.14 239.5,825.97 242.0,826.20 244.5,826.50 247.0,826.10 249.5,828.40 252.0,826.34 254.5,828.12 257.0,829.21 259.5,827.93 262.0,829.12 264.5,828.72 267.0,828.57 269.5,828.64 272.0,828.61 274.5,830.52 277.0,830.51 279.5,830.94 282.0,829.01 284.5,830.69 287.0,829.93 289.5,831.00 292.0,831.07 294.5,830.81 297.0,832.68 299.5,830.65 302.0,832.59 304.5,833.00 307.0,832.32 309.5,832.67 312.0,833.79 314.5,832.14 317.0,833.27 319.5,833.72 322.0,833.03 324.5,834.01 327.0,833.36 329.5,833.80 332.0,834.13 334.5,834.41 337.0,833.67 339.5,834.21 342.0,833.80 344.5,832.84 347.0,833.57 349.5,832.54 352.0,833.40 354.5,831.68 357.0,831.59 359.5,830.43 362.0,829.64 364.5,828.53 367.0,827.84 369.5,829.23 372.0,827.77 374.5,827.26 377.0,826.65 379.5,826.72 382.0,824.72 384.5,824.36 387.0,825.72 389.5,824.65 392.0,824.89 394.5,825.14 397.0,825.13 399.5,824.89 402.0,822.74 404.5,823.39 407.0,824.30 409.5,824.00 412.0,822.08 414.5,821.89 417.0,821.86 419.5,821.25 422.0,821.79 424.5,822.79 427.0,822.04 429.5,821.81 432.0,820.86 434.5,821.80 437.0,823.44 439.5,822.92 442.0,822.53 444.5,822.80 447.0,823.77 449.5,823.87 452.0,822.61 454.5,824.08 457.0,823.53 459.5,824.33 462.0,824.08 464.5,824.83 467.0,825.19 469.5,825.71 472.0,825.26 474.5,826.12 477.0,827.43 479.5,826.62 482.0,827.33 484.5,828.87 487.0,828.06 489.5,828.43 492.0,828.48 494.5,830.15 497.0,828.77 499.5,830.48 502.0,831.41 504.5,830.23 507.0,831.17 509.5,832.40 512.0,832.33 514.5,832.09 517.0,831.66 519.5,832.96 522.0,832.93 524.5,833.91 527.0,833.06 529.5,833.48 532.0,834.21 534.5,834.65 537.0,833.60 539.5,833.72 542.0,834.24 544.5,835.12 547.0,833.36 549.5,835.23 552.0,834.61 554.5,833.79 557.0,834.50 559.5,833.57 562.0,832.83 564.5,834.35 567.0,833.33 569.5,833.56 572.0,832.81 574.5,833.10 577.0,832.08 579.5,829.64 582.0,830.32 584.5,829.61 587.0,829.21 589.5,829.71 592.0,828.30 594.5,828.04 597.0,828.62 599.5,827.12 602.0,826.82 604.5,826.45 607.0,826.78 609.5,826.23 612.0,826.22 614.5,825.22 617.0,824.18 619.5,825.53 622.0,825.28 624.5,825.85 627.0,825.90 629.5,824.38 632.0,824.68 634.5,824.54 637.0,826.51 639.5,824.99 642.0,825.16 644.5,826.96 647.0,826.67 649.5,825.62 652.0,827.29 654.5,827.54 657.0,827.16 659.5,826.31 662.0,828.02 664.5,827.54 667.0,828.12 669.5,829.30 672.0,829.01 674.5,829.29 677.0,827.70 679.5,828.30 682.0,828.89 684.5,827.83 687.0,830.36 689.5,828.82 692.0,828.96 694.5,829.25 697.0,829.21 699.5,830.76 702.0,830.13 704.5,829.97 707.0,829.69 709.5,828.74 712.0,829.29 714.5,830.58 717.0,830.05 719.5,829.82 722.0,828.01 724.5,827.50 727.0,826.78 729.5,827.44 732.0,826.55 734.5,826.26 737.0,825.82 739.5,825.55 742.0,824.48 744.5,824.97 747.0,822.98 749.5,824.16 752.0,822.73 754.5,820.77 757.0,820.65 759.5,820.43 762.0,819.38 764.5,819.01 767.0,818.23 769.5,817.91 772.0,818.96 774.5,817.55 777.0,818.36 779.5,818.63 782.0,818.17 784.5,817.89 787.0,819.09 789.5,817.97 792.0,819.16 794.5,817.34 797.0,818.39 799.5,819.03 802.0,817.77 804.5,819.97 807.0,818.32 809.5,819.83 812.0,819.08 814.5,821.11 817.0,820.60 819.5,821.52 822.0,821.15 824.5,821.92 827.0,822.27 829.5,821.56 832.0,821.56 834.5,823.26 837.0,821.80 839.5,823.85 842.0,821.95 844.5,821.49 847.0,821.28 849.5,822.73 852.0,822.93 854.5,821.40 857.0,821.73 859.5,820.52 862.0,821.82 864.5,821.05 867.0,819.47 869.5,818.94 872.0,820.17 874.5,818.30 877.0,819.91 879.5,818.22 882.0,817.70 884.5,818.16 887.0,817.14 889.5,817.35 892.0,815.87 894.5,817.19 897.0,815.28 899.5,816.02 902.0,813.86 904.5,815.30 907.0,815.61 909.5,814.08 912.0,813.10 914.5,813.81 917.0,814.44 919.5,813.44 922.0,814.21 924.5,813.12 927.0,814.01 929.5,814.77 932.0,814.17 934.5,814.89 937.0,813.65 939.5,815.49 942.0,814.17 944.5,816.48 947.0,817.03 949.5,817.27 952.0,816.66 954.5,816.40 957.0,816.84 959.5,818.10 962.0,817.79 964.5,819.13 967.0,817.32 969.5,818.46 972.0,819.57 974.5,819.13 977.0,819.20 979.5,818.36 982.0,818.74 984.5,819.30 987.0,821.04 989.5,821.18 992.0,819.90 994.5,821.77 997.0,819.83 999.5,821.39 1002.0,822.47 1004.5,821.08 1007.0,822.62 1009.5,822.03 1012.0,820.67 1014.5,821.45 1017.0,821.65 1019.5,821.08 1022.0,822.18 1024.5,820.63 1027.0,821.89 1029.5,820.52 1032.0,819.77 1034.5,820.74 1037.0,819.38 1039.5,820.22 1042.0,820.54 1044.5,819.83 1047.0,819.26 1049.5,817.68 1052.0,818.28 1054.5,816.73 1057.0,817.50 1059.5,815.72 1062.0,816.41 1064.5,815.49 1067.0,815.16 1069.5,815.47 1072.0,813.89 1074.5,814.04 1077.0,816.02 1079.5,814.69 1082.0,816.04 1084.5,816.25 1087.0,815.67 1089.5,815.25 1092.0,815.49 1094.5,817.74 1097.0,816.28 1099.5,817.45 1102.0,817.81 1104.5,817.06 1107.0,818.16 1109.5,817.69 1112.0,818.91 1114.5,819.16 1117.0,819.14 1119.5,819.05 1122.0,819.87 1124.5,819.69 1127.0,819.81 1129.5,820.38 1132.0,822.19 1134.5,821.60 1137.0,822.74 1139.5,820.84 1142.0,823.26 1144.5,822.37 1147.0,823.30 1149.5,822.89 1152.0,823.29 1154.5,822.31 1157.0,823.68 1159.5,822.37 1162.0,822.56 1164.5,821.93 1167.0,822.73 1169.5,822.96 1172.0,822.35 1174.5,823.74 1177.0,821.75 1179.5,822.89 1182.0,822.01 1184.5,822.83 1187.0,822.96 1189.5,822.47 1192.0,820.59 1194.5,820.71 1197.0,821.24 1199.5,821.78 1202.0,819.14 1204.5,820.14 1207.0,819.94 1209.5,819.86 1212.0,818.27 1214.5,818.95 1217.0,817.66 1219.5,818.31 1222.0,815.68 1224.5,817.48 1227.0,815.78 1229.5,815.34 1232.0,814.14 1234.5,814.09 1237.0,815.26 1239.5,815.13 1242.0,813.86 1244.5,814.33 1247.0,813.84 1249.5,813.91 1252.0,813.89 1254.5,814.08 1257.0,815.56 1259.5,815.54 1262.0,815.05 1264.5,814.30 1267.0,814.34 1269.5,815.02 1272.0,815.33 1274.5,815.40 1277.0,815.58 1279.5,814.98 1282.0,816.45 1284.5,817.43 1287.0,817.49 1289.5,816.02 1292.0,817.72 1294.5,817.04 1297.0,816.79 1299.5,818.97 1302.0,818.51 1304.5,818.94 1307.0,817.72 1309.5,819.64 1312.0,820.15 1314.5,820.32 1317.0,820.19 1319.5,820.65 1322.0,820.83 1324.5,820.50 1327.0,820.30 1329.5,821.42 1332.0,821.50 1334.5,821.89 1337.0,820.63 1339.5,822.34 1342.0,821.43 1344.5,822.22 1347.0,820.03 1349.5,821.87 1352.0,821.24 1354.5,819.75 1357.0,820.53 1359.5,818.45 1362.0,817.74 1364.5,817.73 1367.0,816.57 1369.5,816.76 1372.0,817.34 1374.5,816.38 1377.0,816.02 1379.5,814.84 1382.0,814.96 1384.5,814.16 1387.0,813.08 1389.5,812.88 1392.0,811.78 1394.5,810.27 1397.0,809.01 1399.5,809.87 1402.0,809.81 1404.5,808.12 1407.0,808.47 1409.5,808.79 1412.0,808.42 1414.5,806.27 1417.0,807.17 1419.5,806.12 1422.0,806.43 1424.5,808.19 1427.0,807.32 1429.5,807.85 1432.0,807.60 1434.5,807.41 1437.0,807.21 1439.5,807.65 1442.0,808.93 1444.5,808.59 1447.0,808.00 1449.5,807.71 1452.0,808.35 1454.5,809.58 1457.0,809.16 1459.5,809.89 1462.0,810.44 1464.5,808.99 1467.0,810.54 1469.5,809.30 1472.0,811.48 1474.5,810.24 1477.0,810.75 1479.5,812.70 1482.0,811.57 1484.5,811.54 1487.0,813.44 1489.5,813.06 1492.0,814.05 1494.5,812.93 1497.0,813.26 1499.5,814.43 1502.0,813.44 1504.5,814.67 1507.0,812.49 1509.5,813.77 1512.0,811.91 1514.5,812.53 1517.0,811.00 1519.5,811.00 1522.0,812.43 1524.5,810.83 1527.0,811.26 1529.5,809.50 1532.0,809.43 1534.5,808.50 1537.0,809.27 1539.5,809.69 1542.0,808.53 1544.5,808.12 1547.0,809.37 1549.5,809.21 1552.0,808.58 1554.5,807.08 1557.0,808.22 1559.5,807.61 1562.0,808.66 1564.5,807.05 1567.0,807.59 1569.5,807.40 1572.0,806.66 1574.5,806.89 1577.0,807.14 1579.5,807.58 1582.0,806.65 1584.5,806.37 1587.0,807.89 1589.5,805.74 1592.0,807.65 1594.5,807.54 1597.0,807.49 1599.5,807.47 1602.0,808.45 1604.5,809.04 1608.5,808.85" fill="none" stroke="#2ca02c" stroke-width="1" stroke-opacity="0.55" stroke-dasharray="4 3 2 5" shape-rendering="crispEdges"/>
<polyline points="62.0,826.20 64.5,826.25 67.0,824.53 69.5,825.23 72.0,824.78 74.5,826.74 77.0,826.76 79.5,825.14 82.0,826.37 84.5,826.51 87.0,825.41 89.5,826.50 92.0,827.61 94.5,827.62 97.0,827.01 99.5,828.43 102.0,827.54 104.5,828.39 107.0,828.33 109.5,829.91 112.0,829.36 114.5,829.81 117.0,829.58 119.5,828.95 122.0,830.43 124.5,829.90 127.0,829.78 129.5,828.71 132.0,828.35 134.5,829.26 137.0,829.78 139.5,829.63 142.0,828.49 144.5,827.93 147.0,828.76 149.5,829.56 152.0,827.74 154.5,829.02 157.0,827.56 159.5,827.80 162.0,827.08 164.5,827.59 167.0,827.73 169.5,829.06 172.0,828.98 174.5,827.05 177.0,827.08 179.5,828.34 182.0,826.29 184.5,826.33 187.0,826.35 189.5,824.99 192.0,824.78 194.5,824.54 197.0,823.95 199.5,824.76 202.0,822.79 204.5,822.34 207.0,823.73 209.5,822.33 212.0,822.96 214.5,822.35 217.0,822.56 219.5,821.32 222.0,820.79 224.5,822.12 227.0,821.69 229.5,822.16 232.0,822.69 234.5,823.15 237.0,822.26 239.5,822.71 242.0,824.28 244.5,823.59 247.0,823.25 249.5,824.31 252.0,823.75 254.5,825.31 257.0,823.89 259.5,826.10 262.0,825.81 264.5,825.47 267.0,827.05 269.5,825.60 272.0,825.71 274.5,825.47 277.0,826.75 279.5,827.37 282.0,827.32 284.5,826.81 287.0,827.89 289.5,826.52 292.0,827.29 294.5,828.40 297.0,829.47 299.5,828.97 302.0,829.26 304.5,829.61 307.0,828.85 309.5,830.31 312.0,829.98 314.5,829.20 317.0,829.50 319.5,830.67 322.0,829.76 324.5,829.55 327.0,831.31 329.5,830.62 332.0,830.71 334.5,831.19 337.0,831.86 339.5,829.82 342.0,830.11 344.5,829.26 347.0,829.89 349.5,829.91 352.0,830.06 354.5,828.94 357.0,828.05 359.5,826.95 362.0,826.68 364.5,825.46 367.0,826.33 369.5,825.69 372.0,825.31 374.5,823.16 377.0,823.80 379.5,823.38 382.0,822.15 384.5,822.91 387.0,822.71 389.5,822.13 392.0,822.12 394.5,821.51 397.0,821.89 399.5,819.93 402.0,821.13 404.5,820.96 407.0,820.57 409.5,819.50 412.0,818.74 414.5,819.77 417.0,820.04 419.5,818.46 422.0,818.24 424.5,818.20 427.0,817.82 429.5,819.14 432.0,819.79 434.5,819.58 437.0,818.71 439.5,819.73 442.0,818.42 444.5,820.46 447.0,819.43 449.5,818.86 452.0,820.56 454.5,819.58 457.0,820.11 459.5,820.02 462.0,821.38 464.5,822.07 467.0,823.11 469.5,821.70 472.0,824.01 474.5,822.71 477.0,823.40 479.5,824.79 482.0,824.52 484.5,824.74 487.0,825.56 489.5,824.97 492.0,826.60 494.5,825.45 497.0,827.36 499.5,827.69 502.0,827.44 504.5,826.62 507.0,828.82 509.5,827.37 512.0,828.86 514.5,829.02 517.0,828.50 519.5,830.21 522.0,830.59 524.5,830.40 527.0,830.11 529.5,830.53 532.0,830.86 534.5,830.04 537.0,831.63 539.5,831.99 542.0,831.58 544.5,832.01 547.0,830.49 549.5,832.07 552.0,829.87 554.5,830.85 557.0,830.02 559.5,830.67 562.0,831.10 564.5,831.04 567.0,830.31 569.5,829.92 572.0,828.88 574.5,828.71 577.0,827.74 579.5,826.85 582.0,827.47 584.5,826.54 587.0,825.95 589.5,824.97 592.0,825.79 594.5,824.17 597.0,823.92 599.5,824.20 602.0,824.12 604.5,824.36 607.0,823.39 609.5,823.70 612.0,823.45 614.5,822.79 617.0,822.61 619.5,820.85 622.0,821.24 624.5,820.83 627.0,822.92 629.5,822.63 632.0,822.46 634.5,821.78 637.0,822.20 639.5,821.94 642.0,823.27 644.5,824.33 647.0,822.85 649.5,822.40 652.0,822.88 654.5,823.48 657.0,824.96 659.5,824.91 662.0,824.25 664.5,823.59 667.0,823.78 669.5,824.07 672.0,825.72 674.5,825.13 677.0,826.53 679.5,826.49 682.0,826.36 684.5,825.76 687.0,826.76 689.5,825.27 692.0,825.39 694.5,826.65 697.0,826.62 699.5,826.00 702.0,826.20 704.5,825.59 707.0,827.66 709.5,827.12 712.0,827.63 714.5,827.65 717.0,825.98 719.5,826.32 722.0,825.11 724.5,825.77 727.0,825.47 729.5,823.27 732.0,822.48 734.5,822.46 737.0,822.85 739.5,821.86 742.0,820.42 744.5,821.84 747.0,821.19 749.5,819.86 752.0,818.30 754.5,819.58 757.0,817.98 759.5,816.12 762.0,815.98 764.5,815.95 767.0,816.37 769.5,815.21 772.0,815.38 774.5,814.14 777.0,814.03 779.5,815.67 782.0,814.47 784.5,813.85 787.0,815.07 789.5,814.00 792.0,814.33 794.5,815.10 797.0,815.56 799.5,815.83 802.0,816.15 804.5,815.76 807.0,815.11 809.5,816.94 812.0,815.58 814.5,816.83 817.0,817.01 819.5,818.01 822.0,818.46 824.5,817.68 827.0,819.01 829.5,819.31 832.0,818.98 834.5,818.39 837.0,820.43 839.5,819.89 842.0,818.40 844.5,818.62 847.0,820.22 849.5,818.20 852.0,818.39 854.5,819.09 857.0,818.93 859.5,818.22 862.0,818.23 864.5,816.29 867.0,816.13 869.5,817.94 872.0,817.23 874.5,815.09 877.0,814.82 879.5,814.90 882.0,816.17 884.5,814.09 887.0,814.79 889.5,815.03 892.0,813.83 894.5,814.01 897.0,811.93 899.5,811.17 902.0,810.34 904.5,812.00 907.0,810.31 909.5,812.28 912.0,811.52 914.5,810.15 917.0,811.64 919.5,810.09 922.0,810.93 924.5,809.95 927.0,811.59 929.5,811.96 932.0,812.14 934.5,810.07 937.0,812.22 939.5,811.63 942.0,812.65 944.5,812.27 947.0,812.93 949.5,813.25 952.0,814.12 954.5,812.69 957.0,812.93 959.5,814.41 962.0,814.10 964.5,814.65 967.0,813.92 969.5,815.89 972.0,814.36 974.5,816.49 977.0,816.65 979.5,816.05 982.0,815.49 984.5,817.01 987.0,816.20 989.5,816.98 992.0,816.41 994.5,818.69 997.0,817.86 999.5,817.60 1002.0,817.18 1004.5,818.80 1007.0,819.19 1009.5,819.29 1012.0,817.59 1014.5,818.33 1017.0,818.09 1019.5,819.11 1022.0,817.55 1024.5,818.46 1027.0,819.15 1029.5,818.45 1032.0,816.42 1034.5,816.38 1037.0,816.22 1039.5,817.36 1042.0,816.89 1044.5,816.45 1047.0,816.04 1049.5,815.38 1052.0,815.32 1054.5,814.86 1057.0,814.95 1059.5,813.96 1062.0,813.73 1064.5,813.63 1067.0,813.07 1069.5,812.40 1072.0,810.37 1074.5,812.06 1077.0,812.60 1079.5,811.72 1082.0,812.93 1084.5,811.38 1087.0,813.58 1089.5,812.75 1092.0,813.76 1094.5,813.04 1097.0,813.52 1099.5,813.90 1102.0,814.10 1104.5,813.81 1107.0,814.90 1109.5,816.45 1112.0,815.99 1114.5,816.98 1117.0,816.89 1119.5,817.39 1122.0,818.09 1124.5,817.81 1127.0,816.96 1129.5,817.20 1132.0,817.89 1134.5,817.25 1137.0,817.95 1139.5,819.73 1142.0,820.01 1144.5,818.79 1147.0,820.05 1149.5,820.18 1152.0,820.58 1154.5,820.47 1157.0,819.96 1159.5,819.05 1162.0,820.71 1164.5,819.41 1167.0,820.09 1169.5,819.40 1172.0,819.74 1174.5,820.72 1177.0,818.74 1179.5,819.57 1182.0,819.81 1184.5,819.49 1187.0,820.13 1189.5,818.54 1192.0,819.43 1194.5,818.58 1197.0,818.92 1199.5,816.44 1202.0,816.35 1204.5,816.15 1207.0,817.26 1209.5,814.73 1212.0,814.87 1214.5,815.52 1217.0,815.73 1219.5,813.32 1222.0,813.50 1224.5,813.67 1227.0,813.25 1229.5,812.95 1232.0,812.54 1234.5,810.90 1237.0,810.92 1239.5,810.37 1242.0,811.96 1244.5,810.80 1247.0,810.92 1249.5,812.54 1252.0,811.70 1254.5,811.51 1257.0,811.59 1259.5,811.38 1262.0,811.62 1264.5,810.68 1267.0,810.10 1269.5,810.11 1272.0,809.98 1274.5,811.27 1277.0,811.19 1279.5,811.57 1282.0,812.93 1284.5,814.53 1287.0,814.05 1289.5,813.26 1292.0,814.65 1294.5,813.43 1297.0,813.44 1299.5,814.18 1302.0,814.68 1304.5,815.60 1307.0,815.27 1309.5,816.20 1312.0,814.93 1314.5,817.19 1317.0,816.02 1319.5,817.45 1322.0,815.77 1324.5,817.87 1327.0,816.60 1329.5,818.29 1332.0,818.35 1334.5,818.21 1337.0,817.38 1339.5,816.86 1342.0,817.41 1344.5,818.92 1347.0,816.93 1349.5,817.93 1352.0,817.56 1354.5,817.54 1357.0,815.75 1359.5,815.03 1362.0,814.29 1364.5,815.79 1367.0,813.72 1369.5,813.95 1372.0,813.33 1374.5,812.08 1377.0,811.28 1379.5,810.74 1382.0,811.93 1384.5,809.37 1387.0,810.55 1389.5,808.29 1392.0,808.33 1394.5,806.43 1397.0,807.49 1399.5,805.70 1402.0,805.48 1404.5,805.36 1407.0,804.11 1409.5,804.18 1412.0,805.23 1414.5,803.74 1417.0,803.71 1419.5,804.72 1422.0,803.50 1424.5,803.51 1427.0,803.65 1429.5,804.12 1432.0,804.18 1434.5,804.94 1437.0,804.63 1439.5,805.69 1442.0,803.82 1444.5,805.49 1447.0,806.11 1449.5,804.86 1452.0,804.57 1454.5,805.75 1457.0,805.18 1459.5,806.20 1462.0,807.01 1464.5,805.72 1467.0,805.98 1469.5,807.15 1472.0,806.72 1474.5,807.15 1477.0,807.96 1479.5,807.48 1482.0,807.66 1484.5,808.67 1487.0,809.23 1489.5,810.65 1492.0,810.03 1494.5,808.95 1497.0,809.39 1499.5,810.73 1502.0,810.37 1504.5,811.19 1507.0,811.15 1509.5,810.64 1512.0,808.58 1514.5,810.32 1517.0,809.06 1519.5,807.96 1522.0,807.37 1524.5,808.62 1527.0,806.63 1529.5,805.90 1532.0,806.02 1534.5,807.28 1537.0,805.85 1539.5,806.18 1542.0,804.28 1544.5,805.11 1547.0,804.70 1549.5,804.35 1552.0,805.37 1554.5,804.57 1557.0,803.81 1559.5,805.70 1562.0,804.32 1564.5,803.41 1567.0,802.83 1569.5,804.25 1572.0,803.80 1574.5,802.50 1577.0,803.45 1579.5,803.98 1582.0,803.54 1584.5,802.86 1587.0,803.55 1589.5,803.85 1592.0,804.01 1594.5,803.05 1597.0,804.88 1599.5,805.47 1602.0,805.23 1604.5,805.76 1608.5,805.65" fill="none" stroke="#2ca02c" stroke-width="1" stroke-opacity="0.55" stroke-dasharray="3 5 4 2" shape-rendering="crispEdges"/>
<polyline points="62.0,827.09 64.5,827.73 67.0,826.87 69.5,826.92 72.0,827.37 74.5,827.73 77.0,826.92 79.5,827.25 82.0,827.20 84.5,827.86 87.0,827.67 89.5,827.99 92.0,828.92 94.5,828.98 97.0,829.67 99.5,829.28 102.0,829.85 104.5,829.30 107.0,830.66 109.5,830.04 112.0,830.57 114.5,830.69 117.0,831.30 119.5,830.83 122.0,831.51 124.5,831.15 127.0,830.58 129.5,831.24 132.0,830.40 134.5,831.28 137.0,830.55 139.5,830.20 142.0,831.01 144.5,830.18 147.0,830.21 149.5,830.06 152.0,830.35 154.5,829.48 157.0,829.80 159.5,829.44 162.0,830.14 164.5,829.08 167.0,829.74 169.5,829.25 172.0,829.41 174.5,829.47 177.0,829.39 179.5,828.45 182.0,828.31 184.5,827.90 187.0,828.65 189.5,827.11 192.0,826.52 194.5,826.42 197.0,825.92 199.5,825.71 202.0,824.42 204.5,824.33 207.0,823.95 209.5,824.15 212.0,823.69 214.5,823.51 217.0,823.96 219.5,823.55 222.0,823.66 224.5,823.65 227.0,823.08 229.5,824.15 232.0,823.77 234.5,823.60 237.0,824.90 239.5,824.16 242.0,824.30 244.5,824.87 247.0,825.11 249.5,826.16 252.0,826.37 254.5,826.16 257.0,826.63 259.5,827.34 262.0,827.62 264.5,827.60 267.0,827.61 269.5,827.30 272.0,827.62 274.5,828.29 277.0,828.33 279.5,828.72 282.0,828.97 284.5,829.17 287.0,828.38 289.5,828.54 292.0,829.83 294.5,829.73 297.0,829.57 299.5,830.48 302.0,830.11 304.5,830.23 307.0,830.54 309.5,830.88 312.0,831.21 314.5,830.67 317.0,831.65 319.5,831.69 322.0,831.69 324.5,832.11 327.0,832.38 329.5,831.55 332.0,832.23 334.5,832.59 337.0,832.75 339.5,832.48 342.0,831.72 344.5,832.45 347.0,832.04 349.5,831.18 352.0,830.74 354.5,830.69 357.0,829.11 359.5,828.67 362.0,828.65 364.5,828.08 367.0,826.78 369.5,826.88 372.0,825.93 374.5,825.80 377.0,825.30 379.5,823.92 382.0,823.42 384.5,823.21 387.0,823.07 389.5,822.59 392.0,822.51 394.5,822.64 397.0,822.48 399.5,821.90 402.0,822.34 404.5,822.60 407.0,821.99 409.5,821.47 412.0,821.63 414.5,821.04 417.0,820.47 419.5,820.58 422.0,819.95 424.5,820.67 427.0,819.98 429.5,820.16 432.0,820.80 434.5,820.77 437.0,821.05 439.5,821.02 442.0,821.21 444.5,821.50 447.0,822.01 449.5,821.29 452.0,822.17 454.5,821.81 457.0,821.96 459.5,823.07 462.0,823.23 464.5,823.96 467.0,824.42 469.5,824.51 472.0,824.46 474.5,824.66 477.0,825.70 479.5,826.35 482.0,826.23 484.5,826.23 487.0,826.41 489.5,826.86 492.0,827.74 494.5,827.15 497.0,827.83 499.5,828.27 502.0,829.20 504.5,829.93 507.0,829.17 509.5,829.64 512.0,830.97 514.5,831.36 517.0,830.73 519.5,831.30 522.0,831.68 524.5,831.58 527.0,831.85 529.5,832.07 532.0,831.96 534.5,831.77 537.0,831.85 539.5,831.99 542.0,831.96 544.5,832.65 547.0,832.74 549.5,832.22 552.0,832.85 554.5,832.77 557.0,832.31 559.5,832.37 562.0,831.89 564.5,832.65 567.0,832.09 569.5,831.36 572.0,830.80 574.5,830.77 577.0,829.72 579.5,829.44 582.0,828.18 584.5,828.46 587.0,828.06 589.5,826.81 592.0,827.00 594.5,826.13 597.0,826.33 599.5,826.02 602.0,825.59 604.5,824.50 607.0,823.91 609.5,824.42 612.0,824.12 614.5,823.43 617.0,823.31 619.5,823.60 622.0,823.08 624.5,823.76 627.0,823.34 629.5,823.41 632.0,823.66 634.5,823.99 637.0,824.42 639.5,823.79 642.0,824.82 644.5,824.42 647.0,824.67 649.5,825.26 652.0,825.49 654.5,825.57 657.0,826.08 659.5,825.43 662.0,825.73 664.5,826.34 667.0,826.03 669.5,826.09 672.0,826.32 674.5,827.13 677.0,827.34 679.5,827.36 682.0,827.80 684.5,827.77 687.0,827.36 689.5,827.54 692.0,828.20 694.5,827.57 697.0,828.33 699.5,827.81 702.0,827.86 704.5,828.36 707.0,827.86 709.5,828.74 712.0,828.61 714.5,828.05 717.0,827.37 719.5,826.90 722.0,827.00 724.5,826.65 727.0,826.09 729.5,826.01 732.0,825.29 734.5,825.08 737.0,823.78 739.5,823.23 742.0,823.06 744.5,822.63 747.0,821.80 749.5,821.75 752.0,820.67 754.5,820.03 757.0,819.47 759.5,819.00 762.0,818.32 764.5,817.10 767.0,816.99 769.5,817.36 772.0,817.17 774.5,816.59 777.0,815.78 779.5,816.25 782.0,816.51 784.5,816.13 787.0,815.89 789.5,817.08 792.0,817.14 794.5,816.35 797.0,816.91 799.5,817.24 802.0,817.01 804.5,816.98 807.0,818.05 809.5,818.32 812.0,818.17 814.5,818.00 817.0,818.72 819.5,818.71 822.0,820.11 824.5,819.36 827.0,820.00 829.5,820.77 832.0,820.21 834.5,820.38 837.0,820.53 839.5,820.85 842.0,821.09 844.5,821.25 847.0,820.25 849.5,820.06 852.0,820.57 854.5,819.91 857.0,819.56 859.5,819.05 862.0,818.94 864.5,819.57 867.0,818.24 869.5,818.11 872.0,818.39 874.5,818.27 877.0,817.99 879.5,817.09 882.0,817.29 884.5,816.48 887.0,815.73 889.5,815.56 892.0,815.36 894.5,814.88 897.0,813.66 899.5,813.23 902.0,813.65 904.5,812.51 907.0,813.24 909.5,812.55 912.0,812.32 914.5,812.21 917.0,812.46 919.5,813.09 922.0,812.08 924.5,812.93 927.0,812.29 929.5,812.23 932.0,813.03 934.5,812.67 937.0,812.61 939.5,813.00 942.0,813.87 944.5,814.30 947.0,814.33 949.5,814.03 952.0,815.32 954.5,815.43 957.0,816.08 959.5,816.44 962.0,815.99 964.5,816.92 967.0,817.08 969.5,816.62 972.0,816.94 974.5,817.15 977.0,817.32 979.5,817.60 982.0,817.53 984.5,817.92 987.0,818.99 989.5,818.64 992.0,819.11 994.5,819.61 997.0,819.66 999.5,819.24 1002.0,820.25 1004.5,820.22 1007.0,820.54 1009.5,820.32 1012.0,820.46 1014.5,820.63 1017.0,819.87 1019.5,820.27 1022.0,819.86 1024.5,820.21 1027.0,819.16 1029.5,819.45 1032.0,819.00 1034.5,819.38 1037.0,818.56 1039.5,818.91 1042.0,818.67 1044.5,818.45 1047.0,817.32 1049.5,817.73 1052.0,816.94 1054.5,816.31 1057.0,815.73 1059.5,814.46 1062.0,815.06 1064.5,814.30 1067.0,813.81 1069.5,813.29 1072.0,813.44 1074.5,813.57 1077.0,813.80 1079.5,813.15 1082.0,813.43 1084.5,813.45 1087.0,813.64 1089.5,814.28 1092.0,814.29 1094.5,815.59 1097.0,815.27 1099.5,815.34 1102.0,815.60 1104.5,816.67 1107.0,816.28 1109.5,816.85 1112.0,817.10 1114.5,817.90 1117.0,818.40 1119.5,817.95 1122.0,818.66 1124.5,819.27 1127.0,819.06 1129.5,819.88 1132.0,819.98 1134.5,819.77 1137.0,820.65 1139.5,820.49 1142.0,820.13 1144.5,820.90 1147.0,821.40 1149.5,821.14 1152.0,821.22 1154.5,821.26 1157.0,821.94 1159.5,821.80 1162.0,821.18 1164.5,821.29 1167.0,821.23 1169.5,821.87 1172.0,821.49 1174.5,820.75 1177.0,821.65 1179.5,820.54 1182.0,821.16 1184.5,820.92 1187.0,820.94 1189.5,820.28 1192.0,819.55 1194.5,819.75 1197.0,819.78 1199.5,819.37 1202.0,818.47 1204.5,817.93 1207.0,818.17 1209.5,817.86 1212.0,816.71 1214.5,817.06 1217.0,816.74 1219.5,815.62 1222.0,815.11 1224.5,815.07 1227.0,814.91 1229.5,813.60 1232.0,813.29 1234.5,812.89 1237.0,813.38 1239.5,812.72 1242.0,813.16 1244.5,813.10 1247.0,813.30 1249.5,812.60 1252.0,813.51 1254.5,813.49 1257.0,812.89 1259.5,813.10 1262.0,812.37 1264.5,813.24 1267.0,812.81 1269.5,813.06 1272.0,813.19 1274.5,813.03 1277.0,814.16 1279.5,813.75 1282.0,813.98 1284.5,815.00 1287.0,815.68 1289.5,815.88 1292.0,816.15 1294.5,815.81 1297.0,816.52 1299.5,816.32 1302.0,816.07 1304.5,816.91 1307.0,817.36 1309.5,817.16 1312.0,817.62 1314.5,817.46 1317.0,817.73 1319.5,818.15 1322.0,818.52 1324.5,818.64 1327.0,818.37 1329.5,818.45 1332.0,819.03 1334.5,819.66 1337.0,819.81 1339.5,819.32 1342.0,819.46 1344.5,819.57 1347.0,818.96 1349.5,819.27 1352.0,819.43 1354.5,818.39 1357.0,818.22 1359.5,817.75 1362.0,817.16 1364.5,816.48 1367.0,815.85 1369.5,814.91 1372.0,815.17 1374.5,814.85 1377.0,813.38 1379.5,814.03 1382.0,812.61 1384.5,811.36 1387.0,810.52 1389.5,810.58 1392.0,809.61 1394.5,808.47 1397.0,808.35 1399.5,808.07 1402.0,808.00 1404.5,806.70 1407.0,806.96 1409.5,806.07 1412.0,805.76 1414.5,805.45 1417.0,805.49 1419.5,805.82 1422.0,805.52 1424.5,805.43 1427.0,805.58 1429.5,805.50 1432.0,805.73 1434.5,805.98 1437.0,806.31 1439.5,806.02 1442.0,806.48 1444.5,806.63 1447.0,807.47 1449.5,807.08 1452.0,807.83 1454.5,807.47 1457.0,807.34 1459.5,808.01 1462.0,807.67 1464.5,807.90 1467.0,807.99 1469.5,809.04 1472.0,809.66 1474.5,809.28 1477.0,809.52 1479.5,809.91 1482.0,810.12 1484.5,810.83 1487.0,810.77 1489.5,810.78 1492.0,811.94 1494.5,811.67 1497.0,811.07 1499.5,812.16 1502.0,812.09 1504.5,811.73 1507.0,811.80 1509.5,811.88 1512.0,811.00 1514.5,810.78 1517.0,810.36 1519.5,810.25 1522.0,809.96 1524.5,809.62 1527.0,809.46 1529.5,808.07 1532.0,808.02 1534.5,808.28 1537.0,807.89 1539.5,807.33 1542.0,807.11 1544.5,806.63 1547.0,807.27 1549.5,806.72 1552.0,806.46 1554.5,806.12 1557.0,805.86 1559.5,806.62 1562.0,806.32 1564.5,805.21 1567.0,805.39 1569.5,805.46 1572.0,805.35 1574.5,805.08 1577.0,805.59 1579.5,804.82 1582.0,805.09 1584.5,805.62 1587.0,805.32 1589.5,805.17 1592.0,805.05 1594.5,805.36 1597.0,805.88 1599.5,806.34 1602.0,805.96 1604.5,806.34 1608.5,807.25" fill="none" stroke="#2ca02c" stroke-width="1.3" stroke-linejoin="round" shape-rendering="crispEdges"/>
<polyline points="1644.5,812.58 1647.0,812.46 1649.5,813.72 1652.0,812.76 1654.5,812.06 1657.0,811.86 1659.5,812.70 1662.0,810.78 1664.5,811.76 1667.0,809.85 1669.5,809.96 1672.0,809.34 1674.5,810.83 1677.0,808.67 1679.5,808.29 1682.0,807.30 1684.5,807.21 1687.0,807.76 1689.5,807.11 1692.0,806.94 1694.5,806.41 1697.0,804.84 1699.5,805.11 1702.0,802.87 1704.5,804.62 1707.0,803.19 1709.5,802.36 1712.0,803.45 1714.5,803.71 1717.0,802.58 1719.5,801.87 1722.0,803.75 1724.5,803.46 1727.0,803.28 1729.5,804.39 1732.0,802.34 1734.5,802.58 1737.0,802.95 1739.5,803.20 1742.0,805.35 1744.5,805.66 1747.0,804.92 1749.5,805.54 1752.0,806.01 1754.5,807.47 1757.0,808.05 1759.5,809.20 1762.0,808.17 1764.5,810.07 1767.0,809.18 1769.5,809.50 1772.0,809.59 1774.5,809.96 1777.0,812.24 1779.5,812.79 1782.0,812.59 1784.5,811.82 1787.0,812.33 1789.5,812.52 1792.0,813.24 1794.5,814.42 1797.0,813.04 1799.5,814.42 1802.0,814.61 1804.5,812.89 1807.0,813.69 1809.5,814.37 1812.0,813.68 1814.5,813.00 1817.0,813.66 1819.5,812.60 1822.0,811.59 1824.5,811.35 1827.0,812.21 1829.5,811.56 1832.0,811.25 1834.5,809.95 1837.0,808.49 1839.5,808.14 1842.0,808.21 1844.5,808.52 1847.0,806.44 1849.5,807.92 1852.0,807.39 1854.5,806.24 1857.0,804.51 1859.5,805.92 1862.0,804.49 1864.5,804.99 1867.0,804.63 1869.5,804.89 1872.0,804.00 1874.5,805.20 1877.0,805.31 1879.5,805.37 1882.0,804.74 1884.5,804.14 1887.0,804.40 1889.5,804.41 1892.0,806.19 1894.5,806.18 1897.0,806.43 1899.5,806.77 1902.0,807.42 1904.5,806.93 1907.0,806.28 1909.5,807.58 1912.0,806.63 1914.5,807.85 1917.0,807.14 1919.5,809.20 1922.0,808.69 1924.5,808.56 1927.0,810.49 1929.5,808.86 1932.0,811.27 1934.5,811.24 1937.0,810.16 1939.5,812.00 1942.0,811.92 1944.5,813.09 1947.0,812.69 1949.5,812.68 1952.0,814.14 1954.5,812.36 1957.0,814.26 1959.5,812.90 1962.0,813.56 1964.5,813.22 1967.0,815.09 1969.5,814.11 1972.0,814.84 1974.5,813.77 1977.0,814.65 1979.5,814.21 1982.0,812.63 1984.5,812.99 1987.0,812.93 1989.5,811.11 1992.0,811.57 1994.5,810.07 1997.0,809.99 1999.5,811.01 2002.0,810.76 2004.5,810.59 2007.0,808.92 2009.5,808.77 2012.0,808.84 2014.5,808.22 2017.0,806.99 2019.5,807.47 2022.0,805.81 2024.5,806.58 2027.0,804.88 2029.5,803.48 2032.0,804.45 2034.5,802.80 2037.0,803.88 2039.5,802.18 2042.0,804.22 2044.5,802.95 2047.0,803.43 2049.5,801.96 2052.0,803.18 2054.5,802.55 2057.0,802.25 2059.5,803.86 2062.0,802.23 2064.5,803.55 2067.0,802.86 2069.5,804.94 2072.0,805.42 2074.5,803.74 2077.0,805.15 2079.5,805.55 2082.0,806.52 2084.5,806.92 2087.0,806.36 2089.5,808.15 2092.0,806.72 2094.5,806.98 2097.0,809.06 2099.5,807.84 2102.0,808.45 2104.5,809.65 2107.0,809.71 2109.5,809.89 2112.0,812.33 2114.5,811.84 2117.0,813.19 2119.5,812.50 2122.0,814.17 2124.5,812.59 2127.0,814.32 2129.5,813.69 2132.0,814.63 2134.5,814.15 2137.0,813.81 2139.5,813.58 2142.0,814.35 2144.5,813.36 2147.0,811.66 2149.5,812.73 2152.0,811.59 2154.5,810.42 2157.0,809.69 2159.5,808.08 2162.0,808.25 2164.5,808.74 2167.0,808.69 2169.5,808.22 2172.0,805.72 2174.5,806.30 2177.0,805.32 2179.5,804.29 2182.0,803.05 2184.5,802.83 2187.0,803.48 2189.5,803.38 2192.0,802.69 2194.5,802.78 2197.0,803.23 2199.5,803.73 2202.0,803.31 2204.5,802.29 2207.0,804.03 2209.5,802.78 2212.0,804.20 2214.5,804.26 2217.0,802.24 2219.5,803.30 2222.0,804.42 2224.5,803.22 2227.0,803.81 2229.5,803.45 2232.0,802.97 2234.7,803.72 2237.3,803.86 2240.0,804.58 2242.5,805.66 2245.0,805.75 2247.5,806.93 2250.0,806.55 2252.5,806.02 2255.0,807.73 2257.5,807.27 2260.0,807.35 2262.5,808.42 2265.0,808.26 2267.5,807.88 2270.0,808.84 2272.5,808.48 2275.0,810.46 2277.5,809.09 2280.0,811.46 2282.5,809.91 2285.0,810.41 2287.5,812.35 2290.0,812.14 2292.5,812.92 2295.0,812.03 2297.5,813.81 2300.0,813.46 2302.5,813.54 2305.0,813.87 2307.5,813.78 2310.0,812.78 2312.5,812.61 2315.0,810.65 2317.5,810.22 2320.0,810.57 2322.5,811.33 2325.0,809.20 2327.5,809.26 2330.0,807.67 2332.5,808.40 2335.0,809.32 2337.5,808.31 2340.0,808.63 2342.5,806.31 2345.0,806.40 2347.5,805.97 2350.0,807.17 2352.5,805.04 2355.0,806.66 2357.5,804.68 2360.0,805.77 2362.5,804.52 2365.0,803.68 2367.5,805.27 2370.0,803.97 2372.5,804.72 2375.0,803.26 2377.5,805.14 2380.0,805.70 2382.5,803.82 2385.0,805.54 2387.5,804.60 2390.0,804.51 2392.5,805.39 2395.0,806.48 2397.5,807.55 2400.0,808.02 2402.5,808.38 2405.0,807.63 2407.5,807.83 2410.0,806.78 2412.5,808.26 2415.0,807.97 2417.5,807.76 2420.0,809.31 2422.5,808.01 2425.0,807.99 2427.5,808.28 2430.0,808.71 2432.5,810.21 2435.0,811.17 2437.5,810.08 2440.0,811.36 2442.5,811.78 2445.0,812.00 2447.5,811.89 2450.0,812.45 2452.5,811.44 2455.0,811.64 2457.5,812.61 2460.0,812.27 2462.5,813.62 2465.0,812.48 2467.5,813.96 2470.0,812.64 2472.5,812.36 2475.0,813.37 2477.5,813.23 2480.0,812.73 2482.5,813.38 2485.0,811.69 2487.5,812.39 2490.0,812.40 2492.5,810.94 2495.0,810.51 2497.5,810.97 2500.0,809.65 2502.5,808.08 2505.0,807.37 2507.5,806.95 2510.0,807.10 2512.5,806.06 2515.0,806.96 2517.5,805.97 2520.0,805.24 2522.5,805.28 2525.0,805.85 2527.5,803.74 2532.0,803.50" fill="none" stroke="#2ca02c" stroke-width="1" stroke-opacity="0.55" stroke-dasharray="4 3 2 5" shape-rendering="crispEdges"/>
<polyline points="1644.5,808.82 1647.0,809.12 1649.5,809.10 1652.0,810.45 1654.5,809.89 1657.0,808.90 1659.5,807.93 1662.0,807.31 1664.5,807.19 1667.0,808.63 1669.5,807.86 1672.0,806.38 1674.5,807.20 1677.0,805.26 1679.5,805.76 1682.0,804.76 1684.5,803.63 1687.0,804.58 1689.5,803.90 1692.0,802.79 1694.5,801.34 1697.0,801.93 1699.5,800.74 1702.0,801.04 1704.5,799.42 1707.0,801.12 1709.5,798.71 1712.0,798.98 1714.5,799.41 1717.0,798.93 1719.5,798.66 1722.0,800.10 1724.5,800.84 1727.0,799.45 1729.5,799.49 1732.0,800.66 1734.5,799.78 1737.0,800.41 1739.5,801.60 1742.0,801.48 1744.5,801.32 1747.0,801.62 1749.5,803.25 1752.0,804.76 1754.5,805.02 1757.0,803.48 1759.5,804.88 1762.0,805.27 1764.5,804.99 1767.0,806.55 1769.5,806.55 1772.0,807.72 1774.5,806.90 1777.0,808.94 1779.5,809.15 1782.0,808.84 1784.5,808.54 1787.0,809.86 1789.5,809.25 1792.0,810.85 1794.5,811.12 1797.0,811.09 1799.5,812.29 1802.0,809.89 1804.5,811.33 1807.0,811.36 1809.5,809.54 1812.0,809.87 1814.5,808.85 1817.0,809.74 1819.5,809.70 1822.0,808.42 1824.5,808.87 1827.0,807.63 1829.5,808.01 1832.0,806.51 1834.5,807.75 1837.0,806.00 1839.5,804.53 1842.0,804.31 1844.5,805.40 1847.0,805.31 1849.5,804.33 1852.0,802.67 1854.5,803.89 1857.0,803.02 1859.5,801.08 1862.0,801.21 1864.5,801.79 1867.0,800.07 1869.5,800.04 1872.0,800.67 1874.5,801.80 1877.0,802.21 1879.5,800.70 1882.0,802.24 1884.5,802.07 1887.0,802.38 1889.5,801.97 1892.0,803.15 1894.5,802.63 1897.0,803.61 1899.5,802.96 1902.0,802.31 1904.5,803.32 1907.0,803.48 1909.5,803.37 1912.0,803.70 1914.5,804.41 1917.0,804.97 1919.5,804.47 1922.0,804.99 1924.5,805.91 1927.0,806.29 1929.5,806.47 1932.0,807.43 1934.5,806.67 1937.0,807.88 1939.5,807.63 1942.0,809.19 1944.5,809.40 1947.0,809.95 1949.5,809.69 1952.0,809.30 1954.5,811.17 1957.0,810.43 1959.5,810.35 1962.0,810.40 1964.5,810.71 1967.0,811.50 1969.5,811.81 1972.0,811.06 1974.5,811.70 1977.0,810.21 1979.5,810.53 1982.0,810.06 1984.5,809.34 1987.0,808.86 1989.5,809.21 1992.0,808.56 1994.5,806.70 1997.0,806.46 1999.5,807.48 2002.0,806.87 2004.5,806.62 2007.0,806.22 2009.5,805.86 2012.0,804.35 2014.5,803.35 2017.0,803.57 2019.5,802.28 2022.0,803.96 2024.5,802.36 2027.0,802.16 2029.5,802.32 2032.0,801.38 2034.5,799.80 2037.0,799.86 2039.5,799.11 2042.0,800.56 2044.5,800.22 2047.0,799.62 2049.5,799.34 2052.0,799.10 2054.5,799.62 2057.0,800.16 2059.5,800.85 2062.0,800.99 2064.5,801.28 2067.0,800.50 2069.5,800.71 2072.0,800.83 2074.5,802.80 2077.0,801.28 2079.5,801.60 2082.0,802.27 2084.5,804.18 2087.0,804.39 2089.5,803.51 2092.0,805.12 2094.5,805.59 2097.0,804.93 2099.5,804.81 2102.0,806.65 2104.5,806.15 2107.0,805.99 2109.5,808.47 2112.0,807.95 2114.5,808.45 2117.0,809.53 2119.5,809.31 2122.0,808.83 2124.5,809.80 2127.0,809.85 2129.5,809.05 2132.0,809.99 2134.5,810.93 2137.0,809.90 2139.5,810.73 2142.0,810.60 2144.5,809.55 2147.0,808.27 2149.5,808.96 2152.0,807.93 2154.5,806.29 2157.0,805.18 2159.5,806.37 2162.0,806.12 2164.5,804.12 2167.0,804.59 2169.5,804.18 2172.0,802.90 2174.5,801.55 2177.0,801.57 2179.5,801.67 2182.0,800.89 2184.5,800.52 2187.0,799.44 2189.5,799.51 2192.0,799.60 2194.5,799.70 2197.0,799.57 2199.5,800.87 2202.0,798.98 2204.5,801.07 2207.0,799.28 2209.5,800.76 2212.0,799.28 2214.5,800.11 2217.0,799.61 2219.5,798.79 2222.0,800.81 2224.5,801.05 2227.0,799.95 2229.5,801.36 2232.0,800.85 2234.7,802.40 2237.3,800.50 2240.0,801.61 2242.5,801.50 2245.0,802.70 2247.5,803.32 2250.0,803.72 2252.5,803.27 2255.0,803.18 2257.5,804.47 2260.0,803.10 2262.5,803.77 2265.0,805.26 2267.5,804.88 2270.0,806.57 2272.5,804.78 2275.0,806.04 2277.5,805.81 2280.0,805.94 2282.5,806.78 2285.0,807.41 2287.5,808.71 2290.0,809.49 2292.5,809.72 2295.0,809.24 2297.5,810.28 2300.0,809.89 2302.5,811.06 2305.0,808.86 2307.5,809.43 2310.0,809.13 2312.5,808.59 2315.0,809.52 2317.5,807.40 2320.0,808.46 2322.5,806.66 2325.0,806.06 2327.5,806.18 2330.0,805.80 2332.5,804.88 2335.0,804.15 2337.5,805.99 2340.0,804.34 2342.5,803.35 2345.0,804.29 2347.5,803.62 2350.0,802.76 2352.5,802.39 2355.0,803.25 2357.5,801.65 2360.0,801.46 2362.5,802.38 2365.0,800.57 2367.5,800.71 2370.0,800.19 2372.5,801.44 2375.0,801.50 2377.5,801.02 2380.0,801.12 2382.5,800.91 2385.0,802.45 2387.5,801.85 2390.0,802.95 2392.5,802.22 2395.0,803.45 2397.5,802.13 2400.0,802.96 2402.5,805.11 2405.0,804.57 2407.5,804.68 2410.0,804.38 2412.5,804.45 2415.0,803.92 2417.5,804.12 2420.0,805.50 2422.5,805.87 2425.0,805.07 2427.5,806.25 2430.0,805.48 2432.5,807.07 2435.0,806.46 2437.5,807.72 2440.0,807.70 2442.5,808.52 2445.0,807.77 2447.5,808.86 2450.0,809.43 2452.5,808.52 2455.0,809.04 2457.5,810.03 2460.0,809.81 2462.5,810.08 2465.0,810.57 2467.5,810.15 2470.0,809.39 2472.5,810.00 2475.0,811.01 2477.5,810.46 2480.0,810.53 2482.5,809.21 2485.0,809.04 2487.5,809.91 2490.0,809.17 2492.5,808.22 2495.0,806.36 2497.5,807.02 2500.0,805.08 2502.5,806.69 2505.0,806.33 2507.5,805.30 2510.0,803.74 2512.5,804.68 2515.0,802.63 2517.5,803.74 2520.0,802.55 2522.5,800.89 2525.0,802.54 2527.5,801.01 2532.0,800.30" fill="none" stroke="#2ca02c" stroke-width="1" stroke-opacity="0.55" stroke-dasharray="3 5 4 2" shape-rendering="crispEdges"/>
<polyline points="1644.5,811.65 1647.0,811.41 1649.5,811.16 1652.0,811.50 1654.5,810.64 1657.0,811.14 1659.5,810.14 1662.0,809.43 1664.5,809.50 1667.0,808.88 1669.5,808.59 1672.0,808.95 1674.5,808.04 1677.0,807.51 1679.5,807.09 1682.0,806.49 1684.5,806.68 1687.0,806.09 1689.5,805.42 1692.0,804.95 1694.5,803.67 1697.0,803.47 1699.5,802.24 1702.0,802.76 1704.5,802.37 1707.0,802.03 1709.5,801.17 1712.0,800.76 1714.5,801.76 1717.0,801.31 1719.5,801.38 1722.0,801.68 1724.5,800.82 1727.0,801.69 1729.5,801.61 1732.0,802.19 1734.5,802.00 1737.0,801.89 1739.5,803.30 1742.0,802.99 1744.5,804.04 1747.0,804.65 1749.5,804.45 1752.0,805.41 1754.5,805.49 1757.0,805.71 1759.5,806.13 1762.0,807.44 1764.5,807.16 1767.0,807.75 1769.5,808.16 1772.0,808.01 1774.5,809.30 1777.0,809.79 1779.5,810.45 1782.0,810.33 1784.5,810.65 1787.0,811.32 1789.5,812.03 1792.0,812.19 1794.5,812.14 1797.0,812.53 1799.5,812.33 1802.0,813.08 1804.5,812.38 1807.0,812.25 1809.5,812.41 1812.0,811.54 1814.5,811.79 1817.0,810.96 1819.5,811.13 1822.0,809.89 1824.5,809.73 1827.0,809.71 1829.5,809.08 1832.0,808.50 1834.5,808.29 1837.0,807.41 1839.5,807.24 1842.0,806.29 1844.5,806.82 1847.0,805.73 1849.5,806.00 1852.0,805.16 1854.5,804.72 1857.0,804.25 1859.5,803.15 1862.0,803.43 1864.5,802.73 1867.0,803.30 1869.5,803.08 1872.0,802.83 1874.5,802.88 1877.0,802.54 1879.5,802.95 1882.0,803.40 1884.5,802.61 1887.0,802.62 1889.5,803.25 1892.0,803.63 1894.5,803.46 1897.0,803.81 1899.5,804.84 1902.0,804.51 1904.5,804.46 1907.0,804.74 1909.5,805.45 1912.0,805.23 1914.5,805.95 1917.0,806.41 1919.5,806.67 1922.0,807.12 1924.5,807.90 1927.0,807.30 1929.5,808.78 1932.0,808.28 1934.5,808.47 1937.0,809.72 1939.5,809.85 1942.0,810.19 1944.5,810.17 1947.0,811.22 1949.5,811.02 1952.0,811.77 1954.5,811.42 1957.0,812.09 1959.5,812.43 1962.0,812.35 1964.5,812.53 1967.0,812.08 1969.5,812.82 1972.0,812.93 1974.5,812.33 1977.0,812.56 1979.5,812.53 1982.0,811.52 1984.5,811.81 1987.0,811.24 1989.5,809.66 1992.0,809.30 1994.5,808.50 1997.0,808.40 1999.5,807.90 2002.0,808.09 2004.5,807.50 2007.0,807.26 2009.5,806.95 2012.0,806.35 2014.5,806.35 2017.0,805.77 2019.5,804.54 2022.0,804.12 2024.5,803.31 2027.0,803.15 2029.5,802.33 2032.0,802.49 2034.5,802.39 2037.0,802.44 2039.5,801.30 2042.0,800.89 2044.5,801.56 2047.0,801.14 2049.5,801.77 2052.0,801.12 2054.5,801.02 2057.0,800.74 2059.5,802.04 2062.0,801.76 2064.5,801.93 2067.0,802.17 2069.5,802.82 2072.0,803.28 2074.5,803.23 2077.0,803.25 2079.5,803.91 2082.0,804.87 2084.5,804.66 2087.0,805.33 2089.5,805.58 2092.0,805.83 2094.5,806.34 2097.0,806.39 2099.5,807.22 2102.0,808.04 2104.5,807.55 2107.0,808.34 2109.5,809.56 2112.0,810.27 2114.5,809.72 2117.0,811.05 2119.5,811.66 2122.0,811.99 2124.5,811.62 2127.0,811.30 2129.5,811.58 2132.0,812.16 2134.5,812.17 2137.0,811.55 2139.5,812.07 2142.0,812.09 2144.5,812.09 2147.0,810.45 2149.5,810.07 2152.0,809.05 2154.5,808.50 2157.0,807.30 2159.5,806.67 2162.0,806.94 2164.5,806.10 2167.0,806.33 2169.5,805.37 2172.0,804.99 2174.5,804.63 2177.0,803.13 2179.5,803.20 2182.0,801.73 2184.5,802.62 2187.0,801.38 2189.5,802.07 2192.0,801.49 2194.5,801.12 2197.0,801.37 2199.5,801.50 2202.0,801.40 2204.5,801.05 2207.0,801.53 2209.5,801.26 2212.0,802.06 2214.5,801.36 2217.0,801.42 2219.5,801.17 2222.0,802.26 2224.5,801.69 2227.0,802.28 2229.5,802.70 2232.0,802.37 2234.7,803.14 2237.3,802.90 2240.0,803.03 2242.5,803.20 2245.0,803.94 2247.5,804.70 2250.0,804.14 2252.5,804.68 2255.0,805.37 2257.5,805.08 2260.0,805.23 2262.5,805.97 2265.0,806.16 2267.5,807.15 2270.0,807.47 2272.5,807.05 2275.0,807.80 2277.5,808.00 2280.0,808.17 2282.5,809.29 2285.0,810.49 2287.5,810.38 2290.0,811.35 2292.5,811.55 2295.0,810.83 2297.5,811.91 2300.0,810.98 2302.5,811.26 2305.0,811.51 2307.5,810.42 2310.0,810.60 2312.5,810.05 2315.0,810.22 2317.5,809.12 2320.0,808.73 2322.5,808.27 2325.0,807.55 2327.5,807.01 2330.0,806.88 2332.5,807.02 2335.0,806.31 2337.5,806.89 2340.0,806.15 2342.5,805.58 2345.0,805.20 2347.5,805.55 2350.0,804.23 2352.5,804.69 2355.0,803.54 2357.5,804.17 2360.0,803.15 2362.5,803.00 2365.0,802.94 2367.5,802.07 2370.0,802.08 2372.5,802.88 2375.0,802.81 2377.5,803.02 2380.0,802.68 2382.5,803.15 2385.0,802.97 2387.5,803.47 2390.0,803.49 2392.5,804.22 2395.0,804.25 2397.5,804.59 2400.0,805.40 2402.5,805.10 2405.0,806.09 2407.5,805.85 2410.0,805.66 2412.5,805.66 2415.0,806.26 2417.5,806.50 2420.0,807.01 2422.5,806.85 2425.0,807.14 2427.5,807.97 2430.0,807.68 2432.5,808.98 2435.0,809.32 2437.5,809.89 2440.0,810.28 2442.5,809.71 2445.0,810.63 2447.5,810.63 2450.0,810.39 2452.5,811.60 2455.0,811.28 2457.5,811.57 2460.0,811.37 2462.5,810.90 2465.0,811.94 2467.5,811.19 2470.0,811.37 2472.5,811.88 2475.0,811.45 2477.5,811.86 2480.0,811.78 2482.5,810.66 2485.0,810.95 2487.5,809.91 2490.0,809.97 2492.5,809.63 2495.0,809.12 2497.5,807.80 2500.0,807.43 2502.5,807.80 2505.0,806.67 2507.5,806.26 2510.0,805.75 2512.5,805.69 2515.0,805.29 2517.5,804.73 2520.0,803.98 2522.5,803.73 2525.0,803.22 2527.5,802.38 2532.0,801.90" fill="none" stroke="#2ca02c" stroke-width="1.3" stroke-linejoin="round" shape-rendering="crispEdges"/>
<path d="M1609 436.5H1643 M1609 807.5H1643" stroke="#e00000" stroke-width="1" stroke-dasharray="1 2" fill="none"/>
</g>
<path d="M63 412.5H141 M63 478.5H141" stroke="#5a5a5a" stroke-width="1" stroke-dasharray="4 2" stroke-dashoffset="0.9" fill="none"/>
<path d="M141 413.5H2538 M141 479H2538" stroke="#b4b4b4" stroke-width="1.3" stroke-dasharray="4 2" stroke-dashoffset="0.9" fill="none"/>
<text x="66.3" y="431" font-size="12.8" fill="#f0f0f0" textLength="70" lengthAdjust="spacingAndGlyphs">Y2=25.0813</text>
<text x="66.3" y="497" font-size="12.8" fill="#f0f0f0" textLength="70" lengthAdjust="spacingAndGlyphs">Y1=24.3992</text>
<text x="2457.5" y="451" font-size="12.8" fill="#f0f0f0" textLength="77" lengthAdjust="spacingAndGlyphs">ΔY=0.682057</text>
<path d="M62.5 45V1305.5H2540" stroke="#9a9a9a" stroke-width="1" fill="none"/>
<text x="57.5" y="136.8" font-size="12.8" fill="#e8e8e8" text-anchor="end">28</text>
<text x="57.5" y="233.2" font-size="12.8" fill="#e8e8e8" text-anchor="end">27</text>
<text x="57.5" y="329.6" font-size="12.8" fill="#e8e8e8" text-anchor="end">26</text>
<text x="57.5" y="426.0" font-size="12.8" fill="#e8e8e8" text-anchor="end">25</text>
<text x="57.5" y="522.4" font-size="12.8" fill="#e8e8e8" text-anchor="end">24</text>
<text x="57.5" y="618.8" font-size="12.8" fill="#e8e8e8" text-anchor="end">23</text>
<text x="57.5" y="715.2" font-size="12.8" fill="#e8e8e8" text-anchor="end">22</text>
<text x="57.5" y="811.6" font-size="12.8" fill="#e8e8e8" text-anchor="end">21</text>
<text x="57.5" y="908.0" font-size="12.8" fill="#e8e8e8" text-anchor="end">20</text>
<text x="57.5" y="1004.4" font-size="12.8" fill="#e8e8e8" text-anchor="end">19</text>
<text x="57.5" y="1100.8" font-size="12.8" fill="#e8e8e8" text-anchor="end">18</text>
<text x="57.5" y="1197.2" font-size="12.8" fill="#e8e8e8" text-anchor="end">17</text>
<text x="57.5" y="1293.6" font-size="12.8" fill="#e8e8e8" text-anchor="end">16</text>
<text transform="translate(34,676) rotate(-90)" font-size="12.8" fill="#e8e8e8" text-anchor="middle">V</text>
<g clip-path="url(#xaxclip)">
<text x="73.5" y="1321" font-size="13.3" fill="#e8e8e8" text-anchor="middle">1h,30m</text>
<text x="323.5" y="1321" font-size="13.3" fill="#e8e8e8" text-anchor="middle">1h,35m</text>
<text x="572.5" y="1321" font-size="13.3" fill="#e8e8e8" text-anchor="middle">1h,40m</text>
<text x="821.5" y="1321" font-size="13.3" fill="#e8e8e8" text-anchor="middle">1h,45m</text>
<text x="1070.5" y="1321" font-size="13.3" fill="#e8e8e8" text-anchor="middle">1h,50m</text>
<text x="1319.5" y="1321" font-size="13.3" fill="#e8e8e8" text-anchor="middle">1h,55m</text>
<text x="1568.5" y="1321" font-size="13.3" fill="#e8e8e8" text-anchor="middle">2h</text>
<text x="1817.5" y="1321" font-size="13.3" fill="#e8e8e8" text-anchor="middle">2h,5m</text>
<text x="2067.5" y="1321" font-size="13.3" fill="#e8e8e8" text-anchor="middle">2h,10m</text>
<text x="2316.5" y="1321" font-size="13.3" fill="#e8e8e8" text-anchor="middle">2h,15m</text>
</g>
<text x="1279.5" y="1363.3" font-size="17" fill="#ececec" text-anchor="middle" textLength="411" lengthAdjust="spacingAndGlyphs">t0 = Wed Nov 29 2023 18:58:52 UTC [1385319550.0000]</text>
<rect x="2.5" y="1383.5" width="99" height="24" rx="2.5" fill="url(#btn)" stroke="#999999" stroke-width="1"/>
<text x="27" y="1400" font-size="13" fill="#0c0c0c" textLength="63" lengthAdjust="spacingAndGlyphs">start online</text>
<path d="M12.5 1389.5 L20.5 1394.5 L12.5 1399.5 Z" fill="#e6e8e4" stroke="#8a8a8a" stroke-width="1"/>
<rect x="104.5" y="1383.5" width="99" height="24" rx="2.5" fill="url(#btn)" stroke="#999999" stroke-width="1"/>
<text x="130.5" y="1400" font-size="13" fill="#b4b4b4" textLength="61.5" lengthAdjust="spacingAndGlyphs">stop online</text>
<rect x="115.5" y="1390.5" width="8" height="8" fill="#f2f2f2" stroke="#bcbcbc" stroke-width="1"/>
<rect x="206.5" y="1383.5" width="99" height="24" rx="2.5" fill="url(#btn)" stroke="#999999" stroke-width="1"/>
<text x="256.0" y="1400" font-size="13" fill="#0c0c0c" text-anchor="middle">reset</text>
<rect x="2448.5" y="1383.5" width="79" height="24" rx="2.5" fill="url(#btn)" stroke="#999999" stroke-width="1"/>
<text x="2488.0" y="1400" font-size="13" fill="#0c0c0c" text-anchor="middle">snapshot</text>
<path d="M2537.5 1400 L2543.8 1392 L2550 1400 Z" fill="#333333"/>
<text x="15.5" y="1429.5" font-size="12.8" fill="#0c0c0c" textLength="202" lengthAdjust="spacingAndGlyphs" xml:space="preserve">h1daqnds1:8088  [399640 channels]</text>
<text x="2403.3" y="1429.5" font-size="12.8" fill="#0000ff" textLength="83.7" lengthAdjust="spacingAndGlyphs">ndscope 0.18.0</text>
<text x="2490.3" y="1429.5" font-size="12.8" fill="#1e1e1e">(</text>
<text x="2494.5" y="1429.5" font-size="12.8" fill="#0000ff" textLength="60" lengthAdjust="spacingAndGlyphs">report bug</text>
<text x="2554.4" y="1429.5" font-size="12.8" fill="#1e1e1e">)</text>
<rect x="2403" y="1432" width="84" height="1" fill="#0000ff"/>
<rect x="2494" y="1432" width="61" height="1" fill="#0000ff"/>
</svg></body></html>
